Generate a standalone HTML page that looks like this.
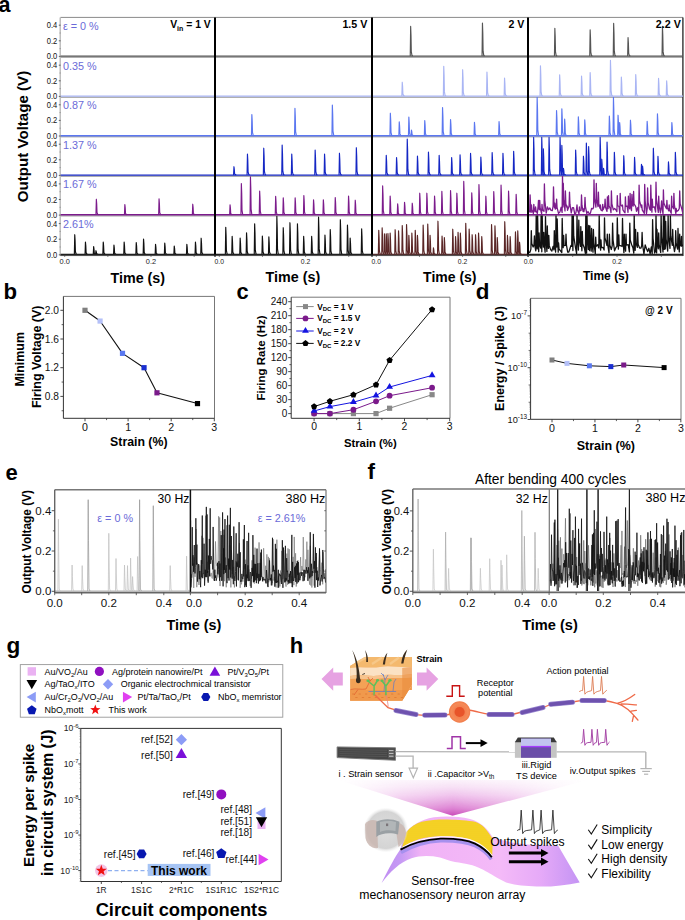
<!DOCTYPE html>
<html><head><meta charset="utf-8"><title>Figure</title>
<style>
html,body{margin:0;padding:0;background:#fff;width:685px;height:920px;overflow:hidden}
svg{display:block}
text{font-family:"Liberation Sans", sans-serif}
</style></head>
<body>
<svg width="685" height="920" viewBox="0 0 685 920" font-family="Liberation Sans, sans-serif">
<rect width="685" height="920" fill="#fff"/>
<g id="panel-a">
<line x1="60.40" y1="57.20" x2="215.00" y2="57.20" stroke="#8c8c8c" stroke-width="1.0" />
<line x1="60.40" y1="97.20" x2="215.00" y2="97.20" stroke="#8c8c8c" stroke-width="1.0" />
<line x1="60.40" y1="136.80" x2="215.00" y2="136.80" stroke="#8c8c8c" stroke-width="1.0" />
<line x1="60.40" y1="176.20" x2="215.00" y2="176.20" stroke="#8c8c8c" stroke-width="1.0" />
<line x1="60.40" y1="215.90" x2="215.00" y2="215.90" stroke="#8c8c8c" stroke-width="1.0" />
<line x1="60.40" y1="255.60" x2="215.00" y2="255.60" stroke="#8c8c8c" stroke-width="1.0" />
<line x1="215.00" y1="57.20" x2="372.00" y2="57.20" stroke="#8c8c8c" stroke-width="1.0" />
<line x1="215.00" y1="97.20" x2="372.00" y2="97.20" stroke="#8c8c8c" stroke-width="1.0" />
<line x1="215.00" y1="136.80" x2="372.00" y2="136.80" stroke="#8c8c8c" stroke-width="1.0" />
<line x1="215.00" y1="176.20" x2="372.00" y2="176.20" stroke="#8c8c8c" stroke-width="1.0" />
<line x1="215.00" y1="215.90" x2="372.00" y2="215.90" stroke="#8c8c8c" stroke-width="1.0" />
<line x1="215.00" y1="255.60" x2="372.00" y2="255.60" stroke="#8c8c8c" stroke-width="1.0" />
<line x1="372.00" y1="57.20" x2="528.00" y2="57.20" stroke="#8c8c8c" stroke-width="1.0" />
<line x1="372.00" y1="97.20" x2="528.00" y2="97.20" stroke="#8c8c8c" stroke-width="1.0" />
<line x1="372.00" y1="136.80" x2="528.00" y2="136.80" stroke="#8c8c8c" stroke-width="1.0" />
<line x1="372.00" y1="176.20" x2="528.00" y2="176.20" stroke="#8c8c8c" stroke-width="1.0" />
<line x1="372.00" y1="215.90" x2="528.00" y2="215.90" stroke="#8c8c8c" stroke-width="1.0" />
<line x1="372.00" y1="255.60" x2="528.00" y2="255.60" stroke="#8c8c8c" stroke-width="1.0" />
<line x1="528.00" y1="57.20" x2="683.00" y2="57.20" stroke="#8c8c8c" stroke-width="1.0" />
<line x1="528.00" y1="97.20" x2="683.00" y2="97.20" stroke="#8c8c8c" stroke-width="1.0" />
<line x1="528.00" y1="136.80" x2="683.00" y2="136.80" stroke="#8c8c8c" stroke-width="1.0" />
<line x1="528.00" y1="176.20" x2="683.00" y2="176.20" stroke="#8c8c8c" stroke-width="1.0" />
<line x1="528.00" y1="215.90" x2="683.00" y2="215.90" stroke="#8c8c8c" stroke-width="1.0" />
<line x1="528.00" y1="255.60" x2="683.00" y2="255.60" stroke="#8c8c8c" stroke-width="1.0" />
<line x1="60.40" y1="17.40" x2="683.00" y2="17.40" stroke="#8a8a8a" stroke-width="1" />
<line x1="682.90" y1="17.40" x2="682.90" y2="256.00" stroke="#333" stroke-width="1.4" />
<line x1="60.20" y1="17.40" x2="60.20" y2="256.00" stroke="#b4b4b4" stroke-width="1.3" />
<clipPath id="cp00"><rect x="60.4" y="17.9" width="154.6" height="40.5"/></clipPath>
<g clip-path="url(#cp00)">
<line x1="60.40" y1="56.10" x2="215.00" y2="56.10" stroke="#555555" stroke-width="1.4" />
</g>
<clipPath id="cp01"><rect x="215.0" y="17.9" width="157.0" height="40.5"/></clipPath>
<g clip-path="url(#cp01)">
<line x1="215.00" y1="56.10" x2="372.00" y2="56.10" stroke="#555555" stroke-width="1.4" />
</g>
<clipPath id="cp02"><rect x="372.0" y="17.9" width="156.0" height="40.5"/></clipPath>
<g clip-path="url(#cp02)">
<line x1="372.00" y1="56.10" x2="528.00" y2="56.10" stroke="#555555" stroke-width="1.4" />
<polyline points="410.25,56.10 410.65,26.40 411.00,35.31 411.30,51.65 412.00,55.60 412.90,56.10" fill="none" stroke="#555555" stroke-width="1.15" stroke-linejoin="round" />
<polyline points="482.05,56.10 482.45,23.00 482.80,32.93 483.10,51.14 483.80,55.60 484.70,56.10" fill="none" stroke="#555555" stroke-width="1.15" stroke-linejoin="round" />
</g>
<clipPath id="cp03"><rect x="528.0" y="17.9" width="155.0" height="40.5"/></clipPath>
<g clip-path="url(#cp03)">
<line x1="528.00" y1="56.10" x2="683.00" y2="56.10" stroke="#555555" stroke-width="1.4" />
<polyline points="554.45,56.10 554.85,28.30 555.20,36.64 555.50,51.93 556.20,55.60 557.10,56.10" fill="none" stroke="#555555" stroke-width="1.15" stroke-linejoin="round" />
<polyline points="589.75,56.10 590.15,29.90 590.50,37.76 590.80,52.17 591.50,55.60 592.40,56.10" fill="none" stroke="#555555" stroke-width="1.15" stroke-linejoin="round" />
<polyline points="613.25,56.10 613.65,23.40 614.00,33.21 614.30,51.20 615.00,55.60 615.90,56.10" fill="none" stroke="#555555" stroke-width="1.15" stroke-linejoin="round" />
<polyline points="627.65,56.10 628.05,37.60 628.40,43.15 628.70,53.33 629.40,55.60 630.30,56.10" fill="none" stroke="#555555" stroke-width="1.15" stroke-linejoin="round" />
<polyline points="662.05,56.10 662.45,26.30 662.80,35.24 663.10,51.63 663.80,55.60 664.70,56.10" fill="none" stroke="#555555" stroke-width="1.15" stroke-linejoin="round" />
</g>
<clipPath id="cp10"><rect x="60.4" y="56.9" width="154.6" height="41.50000000000001"/></clipPath>
<g clip-path="url(#cp10)">
<line x1="60.40" y1="96.10" x2="215.00" y2="96.10" stroke="#a9b5f4" stroke-width="1.4" />
</g>
<clipPath id="cp11"><rect x="215.0" y="56.9" width="157.0" height="41.50000000000001"/></clipPath>
<g clip-path="url(#cp11)">
<line x1="215.00" y1="96.10" x2="372.00" y2="96.10" stroke="#a9b5f4" stroke-width="1.4" />
</g>
<clipPath id="cp12"><rect x="372.0" y="56.9" width="156.0" height="41.50000000000001"/></clipPath>
<g clip-path="url(#cp12)">
<line x1="372.00" y1="96.10" x2="528.00" y2="96.10" stroke="#a9b5f4" stroke-width="1.4" />
<polyline points="401.85,96.10 402.25,82.20 402.60,86.37 402.90,94.02 403.60,95.60 404.50,96.10" fill="none" stroke="#a9b5f4" stroke-width="1.15" stroke-linejoin="round" />
<polyline points="443.35,96.10 443.75,66.30 444.10,75.24 444.40,91.63 445.10,95.60 446.00,96.10" fill="none" stroke="#a9b5f4" stroke-width="1.15" stroke-linejoin="round" />
<polyline points="462.25,96.10 462.65,69.70 463.00,77.62 463.30,92.14 464.00,95.60 464.90,96.10" fill="none" stroke="#a9b5f4" stroke-width="1.15" stroke-linejoin="round" />
<polyline points="486.55,96.10 486.95,72.00 487.30,79.23 487.60,92.49 488.30,95.60 489.20,96.10" fill="none" stroke="#a9b5f4" stroke-width="1.15" stroke-linejoin="round" />
<polyline points="504.15,96.10 504.55,78.10 504.90,83.50 505.20,93.40 505.90,95.60 506.80,96.10" fill="none" stroke="#a9b5f4" stroke-width="1.15" stroke-linejoin="round" />
</g>
<clipPath id="cp13"><rect x="528.0" y="56.9" width="155.0" height="41.50000000000001"/></clipPath>
<g clip-path="url(#cp13)">
<line x1="528.00" y1="96.10" x2="683.00" y2="96.10" stroke="#a9b5f4" stroke-width="1.4" />
<polyline points="540.05,96.10 540.45,65.80 540.80,74.89 541.10,91.56 541.80,95.60 542.70,96.10" fill="none" stroke="#a9b5f4" stroke-width="1.15" stroke-linejoin="round" />
<polyline points="559.25,96.10 559.65,74.80 560.00,81.19 560.30,92.91 561.00,95.60 561.90,96.10" fill="none" stroke="#a9b5f4" stroke-width="1.15" stroke-linejoin="round" />
<polyline points="581.15,96.10 581.55,76.10 581.90,82.10 582.20,93.10 582.90,95.60 583.80,96.10" fill="none" stroke="#a9b5f4" stroke-width="1.15" stroke-linejoin="round" />
<polyline points="589.75,96.10 590.15,72.60 590.50,79.65 590.80,92.58 591.50,95.60 592.40,96.10" fill="none" stroke="#a9b5f4" stroke-width="1.15" stroke-linejoin="round" />
<polyline points="610.05,96.10 610.45,60.40 610.80,71.11 611.10,90.75 611.80,95.60 612.70,96.10" fill="none" stroke="#a9b5f4" stroke-width="1.15" stroke-linejoin="round" />
<polyline points="620.95,96.10 621.35,77.10 621.70,82.80 622.00,93.25 622.70,95.60 623.60,96.10" fill="none" stroke="#a9b5f4" stroke-width="1.15" stroke-linejoin="round" />
<polyline points="635.35,96.10 635.75,74.50 636.10,80.98 636.40,92.86 637.10,95.60 638.00,96.10" fill="none" stroke="#a9b5f4" stroke-width="1.15" stroke-linejoin="round" />
<polyline points="658.15,96.10 658.55,78.40 658.90,83.71 659.20,93.45 659.90,95.60 660.80,96.10" fill="none" stroke="#a9b5f4" stroke-width="1.15" stroke-linejoin="round" />
<polyline points="666.25,96.10 666.65,80.90 667.00,85.46 667.30,93.82 668.00,95.60 668.90,96.10" fill="none" stroke="#a9b5f4" stroke-width="1.15" stroke-linejoin="round" />
</g>
<clipPath id="cp20"><rect x="60.4" y="96.9" width="154.6" height="41.099999999999994"/></clipPath>
<g clip-path="url(#cp20)">
<line x1="60.40" y1="135.70" x2="215.00" y2="135.70" stroke="#5b77f0" stroke-width="1.4" />
</g>
<clipPath id="cp21"><rect x="215.0" y="96.9" width="157.0" height="41.099999999999994"/></clipPath>
<g clip-path="url(#cp21)">
<line x1="215.00" y1="135.70" x2="372.00" y2="135.70" stroke="#5b77f0" stroke-width="1.4" />
<polyline points="251.45,135.70 251.85,114.50 252.20,120.86 252.50,132.52 253.20,135.20 254.10,135.70" fill="none" stroke="#5b77f0" stroke-width="1.15" stroke-linejoin="round" />
<polyline points="294.55,135.70 294.95,108.30 295.30,116.52 295.60,131.59 296.30,135.20 297.20,135.70" fill="none" stroke="#5b77f0" stroke-width="1.15" stroke-linejoin="round" />
<polyline points="331.95,135.70 332.35,105.10 332.70,114.28 333.00,131.11 333.70,135.20 334.60,135.70" fill="none" stroke="#5b77f0" stroke-width="1.15" stroke-linejoin="round" />
</g>
<clipPath id="cp22"><rect x="372.0" y="96.9" width="156.0" height="41.099999999999994"/></clipPath>
<g clip-path="url(#cp22)">
<line x1="372.00" y1="135.70" x2="528.00" y2="135.70" stroke="#5b77f0" stroke-width="1.4" />
<polyline points="389.95,135.70 390.35,113.20 390.70,119.95 391.00,132.32 391.70,135.20 392.60,135.70" fill="none" stroke="#5b77f0" stroke-width="1.15" stroke-linejoin="round" />
<polyline points="398.85,135.70 399.25,121.90 399.60,126.04 399.90,133.63 400.60,135.20 401.50,135.70" fill="none" stroke="#5b77f0" stroke-width="1.15" stroke-linejoin="round" />
<polyline points="408.45,135.70 408.85,117.10 409.20,122.68 409.50,132.91 410.20,135.20 411.10,135.70" fill="none" stroke="#5b77f0" stroke-width="1.15" stroke-linejoin="round" />
<polyline points="411.05,135.70 411.45,130.00 411.80,131.71 412.10,134.84 412.80,135.20 413.70,135.70" fill="none" stroke="#5b77f0" stroke-width="1.15" stroke-linejoin="round" />
<polyline points="424.35,135.70 424.75,120.50 425.10,125.06 425.40,133.42 426.10,135.20 427.00,135.70" fill="none" stroke="#5b77f0" stroke-width="1.15" stroke-linejoin="round" />
<polyline points="442.15,135.70 442.55,107.50 442.90,115.96 443.20,131.47 443.90,135.20 444.80,135.70" fill="none" stroke="#5b77f0" stroke-width="1.15" stroke-linejoin="round" />
<polyline points="450.15,135.70 450.55,119.60 450.90,124.43 451.20,133.28 451.90,135.20 452.80,135.70" fill="none" stroke="#5b77f0" stroke-width="1.15" stroke-linejoin="round" />
<polyline points="474.05,135.70 474.45,122.30 474.80,126.32 475.10,133.69 475.80,135.20 476.70,135.70" fill="none" stroke="#5b77f0" stroke-width="1.15" stroke-linejoin="round" />
<polyline points="498.65,135.70 499.05,121.60 499.40,125.83 499.70,133.58 500.40,135.20 501.30,135.70" fill="none" stroke="#5b77f0" stroke-width="1.15" stroke-linejoin="round" />
</g>
<clipPath id="cp23"><rect x="528.0" y="96.9" width="155.0" height="41.099999999999994"/></clipPath>
<g clip-path="url(#cp23)">
<line x1="528.00" y1="135.70" x2="683.00" y2="135.70" stroke="#5b77f0" stroke-width="1.4" />
<polyline points="536.75,135.70 537.15,97.30 537.50,108.82 537.80,129.94 538.50,135.20 539.40,135.70" fill="none" stroke="#5b77f0" stroke-width="1.15" stroke-linejoin="round" />
<polyline points="556.15,135.70 556.55,110.60 556.90,118.13 557.20,131.94 557.90,135.20 558.80,135.70" fill="none" stroke="#5b77f0" stroke-width="1.15" stroke-linejoin="round" />
<polyline points="561.45,135.70 561.85,108.80 562.20,116.87 562.50,131.66 563.20,135.20 564.10,135.70" fill="none" stroke="#5b77f0" stroke-width="1.15" stroke-linejoin="round" />
<polyline points="564.25,135.70 564.65,119.10 565.00,124.08 565.30,133.21 566.00,135.20 566.90,135.70" fill="none" stroke="#5b77f0" stroke-width="1.15" stroke-linejoin="round" />
<polyline points="577.95,135.70 578.35,116.80 578.70,122.47 579.00,132.86 579.70,135.20 580.60,135.70" fill="none" stroke="#5b77f0" stroke-width="1.15" stroke-linejoin="round" />
<polyline points="584.35,135.70 584.75,119.80 585.10,124.57 585.40,133.31 586.10,135.20 587.00,135.70" fill="none" stroke="#5b77f0" stroke-width="1.15" stroke-linejoin="round" />
<polyline points="608.95,135.70 609.35,116.10 609.70,121.98 610.00,132.76 610.70,135.20 611.60,135.70" fill="none" stroke="#5b77f0" stroke-width="1.15" stroke-linejoin="round" />
<polyline points="613.05,135.70 613.45,97.30 613.80,108.82 614.10,129.94 614.80,135.20 615.70,135.70" fill="none" stroke="#5b77f0" stroke-width="1.15" stroke-linejoin="round" />
<polyline points="617.65,135.70 618.05,115.20 618.40,121.35 618.70,132.62 619.40,135.20 620.30,135.70" fill="none" stroke="#5b77f0" stroke-width="1.15" stroke-linejoin="round" />
<polyline points="619.25,135.70 619.65,122.50 620.00,126.46 620.30,133.72 621.00,135.20 621.90,135.70" fill="none" stroke="#5b77f0" stroke-width="1.15" stroke-linejoin="round" />
<polyline points="630.05,135.70 630.45,120.20 630.80,124.85 631.10,133.38 631.80,135.20 632.70,135.70" fill="none" stroke="#5b77f0" stroke-width="1.15" stroke-linejoin="round" />
<polyline points="646.75,135.70 647.15,121.40 647.50,125.69 647.80,133.55 648.50,135.20 649.40,135.70" fill="none" stroke="#5b77f0" stroke-width="1.15" stroke-linejoin="round" />
<polyline points="657.05,135.70 657.45,113.80 657.80,120.37 658.10,132.41 658.80,135.20 659.70,135.70" fill="none" stroke="#5b77f0" stroke-width="1.15" stroke-linejoin="round" />
<polyline points="671.45,135.70 671.85,122.50 672.20,126.46 672.50,133.72 673.20,135.20 674.10,135.70" fill="none" stroke="#5b77f0" stroke-width="1.15" stroke-linejoin="round" />
</g>
<clipPath id="cp30"><rect x="60.4" y="136.5" width="154.6" height="40.900000000000006"/></clipPath>
<g clip-path="url(#cp30)">
<line x1="60.40" y1="175.10" x2="215.00" y2="175.10" stroke="#1527c4" stroke-width="1.4" />
</g>
<clipPath id="cp31"><rect x="215.0" y="136.5" width="157.0" height="40.900000000000006"/></clipPath>
<g clip-path="url(#cp31)">
<line x1="215.00" y1="175.10" x2="372.00" y2="175.10" stroke="#1527c4" stroke-width="1.4" />
<polyline points="233.55,175.10 233.95,166.70 234.30,169.22 234.60,173.84 235.30,174.60 236.20,175.10" fill="none" stroke="#1527c4" stroke-width="1.15" stroke-linejoin="round" />
<polyline points="247.05,175.10 247.45,154.10 247.80,160.40 248.10,171.95 248.80,174.60 249.70,175.10" fill="none" stroke="#1527c4" stroke-width="1.15" stroke-linejoin="round" />
<polyline points="263.35,175.10 263.75,148.20 264.10,156.27 264.40,171.06 265.10,174.60 266.00,175.10" fill="none" stroke="#1527c4" stroke-width="1.15" stroke-linejoin="round" />
<polyline points="281.75,175.10 282.15,145.00 282.50,154.03 282.80,170.59 283.50,174.60 284.40,175.10" fill="none" stroke="#1527c4" stroke-width="1.15" stroke-linejoin="round" />
<polyline points="291.35,175.10 291.75,154.10 292.10,160.40 292.40,171.95 293.10,174.60 294.00,175.10" fill="none" stroke="#1527c4" stroke-width="1.15" stroke-linejoin="round" />
<polyline points="314.75,175.10 315.15,150.00 315.50,157.53 315.80,171.34 316.50,174.60 317.40,175.10" fill="none" stroke="#1527c4" stroke-width="1.15" stroke-linejoin="round" />
<polyline points="324.15,175.10 324.55,154.10 324.90,160.40 325.20,171.95 325.90,174.60 326.80,175.10" fill="none" stroke="#1527c4" stroke-width="1.15" stroke-linejoin="round" />
<polyline points="339.05,175.10 339.45,153.20 339.80,159.77 340.10,171.81 340.80,174.60 341.70,175.10" fill="none" stroke="#1527c4" stroke-width="1.15" stroke-linejoin="round" />
<polyline points="355.95,175.10 356.35,147.70 356.70,155.92 357.00,170.99 357.70,174.60 358.60,175.10" fill="none" stroke="#1527c4" stroke-width="1.15" stroke-linejoin="round" />
</g>
<clipPath id="cp32"><rect x="372.0" y="136.5" width="156.0" height="40.900000000000006"/></clipPath>
<g clip-path="url(#cp32)">
<line x1="372.00" y1="175.10" x2="528.00" y2="175.10" stroke="#1527c4" stroke-width="1.4" />
<polyline points="385.85,175.10 386.25,155.40 386.60,161.31 386.90,172.14 387.60,174.60 388.50,175.10" fill="none" stroke="#1527c4" stroke-width="1.15" stroke-linejoin="round" />
<polyline points="396.15,175.10 396.55,157.60 396.90,162.85 397.20,172.47 397.90,174.60 398.80,175.10" fill="none" stroke="#1527c4" stroke-width="1.15" stroke-linejoin="round" />
<polyline points="406.85,175.10 407.25,139.00 407.60,149.83 407.90,169.69 408.60,174.60 409.50,175.10" fill="none" stroke="#1527c4" stroke-width="1.15" stroke-linejoin="round" />
<polyline points="417.05,175.10 417.45,156.00 417.80,161.73 418.10,172.23 418.80,174.60 419.70,175.10" fill="none" stroke="#1527c4" stroke-width="1.15" stroke-linejoin="round" />
<polyline points="428.05,175.10 428.45,152.00 428.80,158.93 429.10,171.63 429.80,174.60 430.70,175.10" fill="none" stroke="#1527c4" stroke-width="1.15" stroke-linejoin="round" />
<polyline points="438.75,175.10 439.15,155.40 439.50,161.31 439.80,172.14 440.50,174.60 441.40,175.10" fill="none" stroke="#1527c4" stroke-width="1.15" stroke-linejoin="round" />
<polyline points="451.25,175.10 451.65,157.60 452.00,162.85 452.30,172.47 453.00,174.60 453.90,175.10" fill="none" stroke="#1527c4" stroke-width="1.15" stroke-linejoin="round" />
<polyline points="459.65,175.10 460.05,154.90 460.40,160.96 460.70,172.07 461.40,174.60 462.30,175.10" fill="none" stroke="#1527c4" stroke-width="1.15" stroke-linejoin="round" />
<polyline points="470.15,175.10 470.55,153.30 470.90,159.84 471.20,171.83 471.90,174.60 472.80,175.10" fill="none" stroke="#1527c4" stroke-width="1.15" stroke-linejoin="round" />
<polyline points="480.45,175.10 480.85,157.00 481.20,162.43 481.50,172.38 482.20,174.60 483.10,175.10" fill="none" stroke="#1527c4" stroke-width="1.15" stroke-linejoin="round" />
<polyline points="491.75,175.10 492.15,152.60 492.50,159.35 492.80,171.72 493.50,174.60 494.40,175.10" fill="none" stroke="#1527c4" stroke-width="1.15" stroke-linejoin="round" />
<polyline points="502.55,175.10 502.95,153.30 503.30,159.84 503.60,171.83 504.30,174.60 505.20,175.10" fill="none" stroke="#1527c4" stroke-width="1.15" stroke-linejoin="round" />
<polyline points="513.25,175.10 513.65,151.30 514.00,158.44 514.30,171.53 515.00,174.60 515.90,175.10" fill="none" stroke="#1527c4" stroke-width="1.15" stroke-linejoin="round" />
</g>
<clipPath id="cp33"><rect x="528.0" y="136.5" width="155.0" height="40.900000000000006"/></clipPath>
<g clip-path="url(#cp33)">
<line x1="528.00" y1="175.10" x2="683.00" y2="175.10" stroke="#1527c4" stroke-width="1.4" />
<polyline points="533.25,175.10 533.65,137.40 534.00,148.71 534.30,169.44 535.00,174.60 535.90,175.10" fill="none" stroke="#1527c4" stroke-width="1.15" stroke-linejoin="round" />
<polyline points="541.35,175.10 541.75,137.40 542.10,148.71 542.40,169.44 543.10,174.60 544.00,175.10" fill="none" stroke="#1527c4" stroke-width="1.15" stroke-linejoin="round" />
<polyline points="542.95,175.10 543.35,148.90 543.70,156.76 544.00,171.17 544.70,174.60 545.60,175.10" fill="none" stroke="#1527c4" stroke-width="1.15" stroke-linejoin="round" />
<polyline points="548.65,175.10 549.05,137.40 549.40,148.71 549.70,169.44 550.40,174.60 551.30,175.10" fill="none" stroke="#1527c4" stroke-width="1.15" stroke-linejoin="round" />
<polyline points="559.65,175.10 560.05,137.40 560.40,148.71 560.70,169.44 561.40,174.60 562.30,175.10" fill="none" stroke="#1527c4" stroke-width="1.15" stroke-linejoin="round" />
<polyline points="561.45,175.10 561.85,145.40 562.20,154.31 562.50,170.64 563.20,174.60 564.10,175.10" fill="none" stroke="#1527c4" stroke-width="1.15" stroke-linejoin="round" />
<polyline points="563.05,175.10 563.45,168.30 563.80,170.34 564.10,174.08 564.80,174.60 565.70,175.10" fill="none" stroke="#1527c4" stroke-width="1.15" stroke-linejoin="round" />
<polyline points="575.25,175.10 575.65,150.00 576.00,157.53 576.30,171.34 577.00,174.60 577.90,175.10" fill="none" stroke="#1527c4" stroke-width="1.15" stroke-linejoin="round" />
<polyline points="583.05,175.10 583.45,156.20 583.80,161.87 584.10,172.26 584.80,174.60 585.70,175.10" fill="none" stroke="#1527c4" stroke-width="1.15" stroke-linejoin="round" />
<polyline points="585.95,175.10 586.35,143.10 586.70,152.70 587.00,170.30 587.70,174.60 588.60,175.10" fill="none" stroke="#1527c4" stroke-width="1.15" stroke-linejoin="round" />
<polyline points="588.25,175.10 588.65,146.60 589.00,155.15 589.30,170.82 590.00,174.60 590.90,175.10" fill="none" stroke="#1527c4" stroke-width="1.15" stroke-linejoin="round" />
<polyline points="599.75,175.10 600.15,137.40 600.50,148.71 600.80,169.44 601.50,174.60 602.40,175.10" fill="none" stroke="#1527c4" stroke-width="1.15" stroke-linejoin="round" />
<polyline points="601.35,175.10 601.75,159.20 602.10,163.97 602.40,172.72 603.10,174.60 604.00,175.10" fill="none" stroke="#1527c4" stroke-width="1.15" stroke-linejoin="round" />
<polyline points="603.15,175.10 603.55,168.30 603.90,170.34 604.20,174.08 604.90,174.60 605.80,175.10" fill="none" stroke="#1527c4" stroke-width="1.15" stroke-linejoin="round" />
<polyline points="606.65,175.10 607.05,142.00 607.40,151.93 607.70,170.13 608.40,174.60 609.30,175.10" fill="none" stroke="#1527c4" stroke-width="1.15" stroke-linejoin="round" />
<polyline points="613.95,175.10 614.35,152.30 614.70,159.14 615.00,171.68 615.70,174.60 616.60,175.10" fill="none" stroke="#1527c4" stroke-width="1.15" stroke-linejoin="round" />
<polyline points="623.35,175.10 623.75,155.70 624.10,161.52 624.40,172.19 625.10,174.60 626.00,175.10" fill="none" stroke="#1527c4" stroke-width="1.15" stroke-linejoin="round" />
<polyline points="634.15,175.10 634.55,157.30 634.90,162.64 635.20,172.43 635.90,174.60 636.80,175.10" fill="none" stroke="#1527c4" stroke-width="1.15" stroke-linejoin="round" />
<polyline points="641.05,175.10 641.45,164.40 641.80,167.61 642.10,173.50 642.80,174.60 643.70,175.10" fill="none" stroke="#1527c4" stroke-width="1.15" stroke-linejoin="round" />
<polyline points="642.15,175.10 642.55,166.00 642.90,168.73 643.20,173.73 643.90,174.60 644.80,175.10" fill="none" stroke="#1527c4" stroke-width="1.15" stroke-linejoin="round" />
<polyline points="652.95,175.10 653.35,148.20 653.70,156.27 654.00,171.06 654.70,174.60 655.60,175.10" fill="none" stroke="#1527c4" stroke-width="1.15" stroke-linejoin="round" />
<polyline points="657.55,175.10 657.95,156.40 658.30,162.01 658.60,172.29 659.30,174.60 660.20,175.10" fill="none" stroke="#1527c4" stroke-width="1.15" stroke-linejoin="round" />
<polyline points="668.05,175.10 668.45,161.90 668.80,165.86 669.10,173.12 669.80,174.60 670.70,175.10" fill="none" stroke="#1527c4" stroke-width="1.15" stroke-linejoin="round" />
<polyline points="674.95,175.10 675.35,152.30 675.70,159.14 676.00,171.68 676.70,174.60 677.60,175.10" fill="none" stroke="#1527c4" stroke-width="1.15" stroke-linejoin="round" />
</g>
<clipPath id="cp40"><rect x="60.4" y="175.9" width="154.6" height="41.19999999999999"/></clipPath>
<g clip-path="url(#cp40)">
<line x1="60.40" y1="214.80" x2="215.00" y2="214.80" stroke="#7c1c8c" stroke-width="1.4" />
<polyline points="95.95,214.80 96.35,199.20 96.70,203.88 97.00,212.46 97.70,214.30 98.60,214.80" fill="none" stroke="#7c1c8c" stroke-width="1.15" stroke-linejoin="round" />
<polyline points="124.45,214.80 124.85,204.50 125.20,207.59 125.50,213.25 126.20,214.30 127.10,214.80" fill="none" stroke="#7c1c8c" stroke-width="1.15" stroke-linejoin="round" />
<polyline points="158.65,214.80 159.05,198.80 159.40,203.60 159.70,212.40 160.40,214.30 161.30,214.80" fill="none" stroke="#7c1c8c" stroke-width="1.15" stroke-linejoin="round" />
<polyline points="192.35,214.80 192.75,204.20 193.10,207.38 193.40,213.21 194.10,214.30 195.00,214.80" fill="none" stroke="#7c1c8c" stroke-width="1.15" stroke-linejoin="round" />
</g>
<clipPath id="cp41"><rect x="215.0" y="175.9" width="157.0" height="41.19999999999999"/></clipPath>
<g clip-path="url(#cp41)">
<line x1="215.00" y1="214.80" x2="372.00" y2="214.80" stroke="#7c1c8c" stroke-width="1.4" />
<polyline points="229.65,214.80 230.05,204.80 230.40,207.80 230.70,213.30 231.40,214.30 232.30,214.80" fill="none" stroke="#7c1c8c" stroke-width="1.15" stroke-linejoin="round" />
<polyline points="240.95,214.80 241.35,183.50 241.70,192.89 242.00,210.10 242.70,214.30 243.60,214.80" fill="none" stroke="#7c1c8c" stroke-width="1.15" stroke-linejoin="round" />
<polyline points="250.05,214.80 250.45,176.80 250.80,188.20 251.10,209.10 251.80,214.30 252.70,214.80" fill="none" stroke="#7c1c8c" stroke-width="1.15" stroke-linejoin="round" />
<polyline points="259.25,214.80 259.65,191.00 260.00,198.14 260.30,211.23 261.00,214.30 261.90,214.80" fill="none" stroke="#7c1c8c" stroke-width="1.15" stroke-linejoin="round" />
<polyline points="275.25,214.80 275.65,196.30 276.00,201.85 276.30,212.02 277.00,214.30 277.90,214.80" fill="none" stroke="#7c1c8c" stroke-width="1.15" stroke-linejoin="round" />
<polyline points="282.85,214.80 283.25,197.90 283.60,202.97 283.90,212.26 284.60,214.30 285.50,214.80" fill="none" stroke="#7c1c8c" stroke-width="1.15" stroke-linejoin="round" />
<polyline points="294.75,214.80 295.15,197.90 295.50,202.97 295.80,212.26 296.50,214.30 297.40,214.80" fill="none" stroke="#7c1c8c" stroke-width="1.15" stroke-linejoin="round" />
<polyline points="303.45,214.80 303.85,195.60 304.20,201.36 304.50,211.92 305.20,214.30 306.10,214.80" fill="none" stroke="#7c1c8c" stroke-width="1.15" stroke-linejoin="round" />
<polyline points="313.15,214.80 313.55,199.80 313.90,204.30 314.20,212.55 314.90,214.30 315.80,214.80" fill="none" stroke="#7c1c8c" stroke-width="1.15" stroke-linejoin="round" />
<polyline points="322.95,214.80 323.35,199.80 323.70,204.30 324.00,212.55 324.70,214.30 325.60,214.80" fill="none" stroke="#7c1c8c" stroke-width="1.15" stroke-linejoin="round" />
<polyline points="334.85,214.80 335.25,197.50 335.60,202.69 335.90,212.20 336.60,214.30 337.50,214.80" fill="none" stroke="#7c1c8c" stroke-width="1.15" stroke-linejoin="round" />
<polyline points="348.15,214.80 348.55,196.10 348.90,201.71 349.20,211.99 349.90,214.30 350.80,214.80" fill="none" stroke="#7c1c8c" stroke-width="1.15" stroke-linejoin="round" />
<polyline points="354.85,214.80 355.25,200.20 355.60,204.58 355.90,212.61 356.60,214.30 357.50,214.80" fill="none" stroke="#7c1c8c" stroke-width="1.15" stroke-linejoin="round" />
</g>
<clipPath id="cp42"><rect x="372.0" y="175.9" width="156.0" height="41.19999999999999"/></clipPath>
<g clip-path="url(#cp42)">
<line x1="372.00" y1="214.80" x2="528.00" y2="214.80" stroke="#7c1c8c" stroke-width="1.4" />
<polyline points="382.25,214.80 382.65,185.90 383.00,194.57 383.30,210.46 384.00,214.30 384.90,214.80" fill="none" stroke="#7c1c8c" stroke-width="1.15" stroke-linejoin="round" />
<polyline points="389.75,214.80 390.15,196.00 390.50,201.64 390.80,211.98 391.50,214.30 392.40,214.80" fill="none" stroke="#7c1c8c" stroke-width="1.15" stroke-linejoin="round" />
<polyline points="397.25,214.80 397.65,203.90 398.00,207.17 398.30,213.16 399.00,214.30 399.90,214.80" fill="none" stroke="#7c1c8c" stroke-width="1.15" stroke-linejoin="round" />
<polyline points="404.15,214.80 404.55,202.30 404.90,206.05 405.20,212.92 405.90,214.30 406.80,214.80" fill="none" stroke="#7c1c8c" stroke-width="1.15" stroke-linejoin="round" />
<polyline points="411.85,214.80 412.25,203.20 412.60,206.68 412.90,213.06 413.60,214.30 414.50,214.80" fill="none" stroke="#7c1c8c" stroke-width="1.15" stroke-linejoin="round" />
<polyline points="419.35,214.80 419.75,193.20 420.10,199.68 420.40,211.56 421.10,214.30 422.00,214.80" fill="none" stroke="#7c1c8c" stroke-width="1.15" stroke-linejoin="round" />
<polyline points="426.45,214.80 426.85,193.20 427.20,199.68 427.50,211.56 428.20,214.30 429.10,214.80" fill="none" stroke="#7c1c8c" stroke-width="1.15" stroke-linejoin="round" />
<polyline points="434.15,214.80 434.55,196.00 434.90,201.64 435.20,211.98 435.90,214.30 436.80,214.80" fill="none" stroke="#7c1c8c" stroke-width="1.15" stroke-linejoin="round" />
<polyline points="441.45,214.80 441.85,191.40 442.20,198.42 442.50,211.29 443.20,214.30 444.10,214.80" fill="none" stroke="#7c1c8c" stroke-width="1.15" stroke-linejoin="round" />
<polyline points="450.15,214.80 450.55,190.50 450.90,197.79 451.20,211.15 451.90,214.30 452.80,214.80" fill="none" stroke="#7c1c8c" stroke-width="1.15" stroke-linejoin="round" />
<polyline points="456.45,214.80 456.85,193.20 457.20,199.68 457.50,211.56 458.20,214.30 459.10,214.80" fill="none" stroke="#7c1c8c" stroke-width="1.15" stroke-linejoin="round" />
<polyline points="463.35,214.80 463.75,181.40 464.10,191.42 464.40,209.79 465.10,214.30 466.00,214.80" fill="none" stroke="#7c1c8c" stroke-width="1.15" stroke-linejoin="round" />
<polyline points="471.35,214.80 471.75,192.80 472.10,199.40 472.40,211.50 473.10,214.30 474.00,214.80" fill="none" stroke="#7c1c8c" stroke-width="1.15" stroke-linejoin="round" />
<polyline points="478.55,214.80 478.95,184.60 479.30,193.66 479.60,210.27 480.30,214.30 481.20,214.80" fill="none" stroke="#7c1c8c" stroke-width="1.15" stroke-linejoin="round" />
<polyline points="485.45,214.80 485.85,196.20 486.20,201.78 486.50,212.01 487.20,214.30 488.10,214.80" fill="none" stroke="#7c1c8c" stroke-width="1.15" stroke-linejoin="round" />
<polyline points="493.35,214.80 493.75,191.60 494.10,198.56 494.40,211.32 495.10,214.30 496.00,214.80" fill="none" stroke="#7c1c8c" stroke-width="1.15" stroke-linejoin="round" />
<polyline points="500.65,214.80 501.05,185.00 501.40,193.94 501.70,210.33 502.40,214.30 503.30,214.80" fill="none" stroke="#7c1c8c" stroke-width="1.15" stroke-linejoin="round" />
<polyline points="508.15,214.80 508.55,191.00 508.90,198.14 509.20,211.23 509.90,214.30 510.80,214.80" fill="none" stroke="#7c1c8c" stroke-width="1.15" stroke-linejoin="round" />
<polyline points="515.75,214.80 516.15,194.40 516.50,200.52 516.80,211.74 517.50,214.30 518.40,214.80" fill="none" stroke="#7c1c8c" stroke-width="1.15" stroke-linejoin="round" />
</g>
<clipPath id="cp43"><rect x="528.0" y="175.9" width="155.0" height="41.19999999999999"/></clipPath>
<g clip-path="url(#cp43)">
<line x1="528.00" y1="214.80" x2="683.00" y2="214.80" stroke="#7c1c8c" stroke-width="1.4" />
</g>
<clipPath id="cp50"><rect x="60.4" y="215.6" width="154.6" height="41.20000000000002"/></clipPath>
<g clip-path="url(#cp50)">
<line x1="60.40" y1="254.50" x2="215.00" y2="254.50" stroke="#111111" stroke-width="1.4" />
<polyline points="74.35,254.50 74.75,234.70 75.10,240.64 75.40,251.53 76.10,254.00 77.00,254.50" fill="none" stroke="#111111" stroke-width="1.15" stroke-linejoin="round" />
<polyline points="85.05,254.50 85.45,242.00 85.80,245.75 86.10,252.62 86.80,254.00 87.70,254.50" fill="none" stroke="#111111" stroke-width="1.15" stroke-linejoin="round" />
<polyline points="93.25,254.50 93.65,246.60 94.00,248.97 94.30,253.31 95.00,254.00 95.90,254.50" fill="none" stroke="#111111" stroke-width="1.15" stroke-linejoin="round" />
<polyline points="95.55,254.50 95.95,250.70 96.30,251.84 96.60,253.93 97.30,254.00 98.20,254.50" fill="none" stroke="#111111" stroke-width="1.15" stroke-linejoin="round" />
<polyline points="102.85,254.50 103.25,242.00 103.60,245.75 103.90,252.62 104.60,254.00 105.50,254.50" fill="none" stroke="#111111" stroke-width="1.15" stroke-linejoin="round" />
<polyline points="113.55,254.50 113.95,245.00 114.30,247.85 114.60,253.07 115.30,254.00 116.20,254.50" fill="none" stroke="#111111" stroke-width="1.15" stroke-linejoin="round" />
<polyline points="123.75,254.50 124.15,242.00 124.50,245.75 124.80,252.62 125.50,254.00 126.40,254.50" fill="none" stroke="#111111" stroke-width="1.15" stroke-linejoin="round" />
<polyline points="135.85,254.50 136.25,242.50 136.60,246.10 136.90,252.70 137.60,254.00 138.50,254.50" fill="none" stroke="#111111" stroke-width="1.15" stroke-linejoin="round" />
<polyline points="143.15,254.50 143.55,239.00 143.90,243.65 144.20,252.18 144.90,254.00 145.80,254.50" fill="none" stroke="#111111" stroke-width="1.15" stroke-linejoin="round" />
<polyline points="155.15,254.50 155.55,244.30 155.90,247.36 156.20,252.97 156.90,254.00 157.80,254.50" fill="none" stroke="#111111" stroke-width="1.15" stroke-linejoin="round" />
<polyline points="164.35,254.50 164.75,243.00 165.10,246.45 165.40,252.78 166.10,254.00 167.00,254.50" fill="none" stroke="#111111" stroke-width="1.15" stroke-linejoin="round" />
<polyline points="173.85,254.50 174.25,246.00 174.60,248.55 174.90,253.22 175.60,254.00 176.50,254.50" fill="none" stroke="#111111" stroke-width="1.15" stroke-linejoin="round" />
<polyline points="186.45,254.50 186.85,244.30 187.20,247.36 187.50,252.97 188.20,254.00 189.10,254.50" fill="none" stroke="#111111" stroke-width="1.15" stroke-linejoin="round" />
<polyline points="195.05,254.50 195.45,242.00 195.80,245.75 196.10,252.62 196.80,254.00 197.70,254.50" fill="none" stroke="#111111" stroke-width="1.15" stroke-linejoin="round" />
<polyline points="200.75,254.50 201.15,238.20 201.50,243.09 201.80,252.06 202.50,254.00 203.40,254.50" fill="none" stroke="#111111" stroke-width="1.15" stroke-linejoin="round" />
</g>
<clipPath id="cp51"><rect x="215.0" y="215.6" width="157.0" height="41.20000000000002"/></clipPath>
<g clip-path="url(#cp51)">
<line x1="215.00" y1="254.50" x2="372.00" y2="254.50" stroke="#111111" stroke-width="1.4" />
<polyline points="225.35,254.50 225.75,227.30 226.10,235.46 226.40,250.42 227.10,254.00 228.00,254.50" fill="none" stroke="#111111" stroke-width="1.15" stroke-linejoin="round" />
<polyline points="231.75,254.50 232.15,236.40 232.50,241.83 232.80,251.78 233.50,254.00 234.40,254.50" fill="none" stroke="#111111" stroke-width="1.15" stroke-linejoin="round" />
<polyline points="239.75,254.50 240.15,238.00 240.50,242.95 240.80,252.03 241.50,254.00 242.40,254.50" fill="none" stroke="#111111" stroke-width="1.15" stroke-linejoin="round" />
<polyline points="246.15,254.50 246.55,232.80 246.90,239.31 247.20,251.25 247.90,254.00 248.80,254.50" fill="none" stroke="#111111" stroke-width="1.15" stroke-linejoin="round" />
<polyline points="254.25,254.50 254.65,223.80 255.00,233.01 255.30,249.90 256.00,254.00 256.90,254.50" fill="none" stroke="#111111" stroke-width="1.15" stroke-linejoin="round" />
<polyline points="261.95,254.50 262.35,236.00 262.70,241.55 263.00,251.72 263.70,254.00 264.60,254.50" fill="none" stroke="#111111" stroke-width="1.15" stroke-linejoin="round" />
<polyline points="268.45,254.50 268.85,236.90 269.20,242.18 269.50,251.86 270.20,254.00 271.10,254.50" fill="none" stroke="#111111" stroke-width="1.15" stroke-linejoin="round" />
<polyline points="276.45,254.50 276.85,216.30 277.20,227.76 277.50,248.77 278.20,254.00 279.10,254.50" fill="none" stroke="#111111" stroke-width="1.15" stroke-linejoin="round" />
<polyline points="282.85,254.50 283.25,227.70 283.60,235.74 283.90,250.48 284.60,254.00 285.50,254.50" fill="none" stroke="#111111" stroke-width="1.15" stroke-linejoin="round" />
<polyline points="289.55,254.50 289.95,222.70 290.30,232.24 290.60,249.73 291.30,254.00 292.20,254.50" fill="none" stroke="#111111" stroke-width="1.15" stroke-linejoin="round" />
<polyline points="297.05,254.50 297.45,223.80 297.80,233.01 298.10,249.90 298.80,254.00 299.70,254.50" fill="none" stroke="#111111" stroke-width="1.15" stroke-linejoin="round" />
<polyline points="303.25,254.50 303.65,236.40 304.00,241.83 304.30,251.78 305.00,254.00 305.90,254.50" fill="none" stroke="#111111" stroke-width="1.15" stroke-linejoin="round" />
<polyline points="311.25,254.50 311.65,236.40 312.00,241.83 312.30,251.78 313.00,254.00 313.90,254.50" fill="none" stroke="#111111" stroke-width="1.15" stroke-linejoin="round" />
<polyline points="318.15,254.50 318.55,217.00 318.90,228.25 319.20,248.88 319.90,254.00 320.80,254.50" fill="none" stroke="#111111" stroke-width="1.15" stroke-linejoin="round" />
<polyline points="324.55,254.50 324.95,235.00 325.30,240.85 325.60,251.57 326.30,254.00 327.20,254.50" fill="none" stroke="#111111" stroke-width="1.15" stroke-linejoin="round" />
<polyline points="329.85,254.50 330.25,229.50 330.60,237.00 330.90,250.75 331.60,254.00 332.50,254.50" fill="none" stroke="#111111" stroke-width="1.15" stroke-linejoin="round" />
<polyline points="339.95,254.50 340.35,219.70 340.70,230.14 341.00,249.28 341.70,254.00 342.60,254.50" fill="none" stroke="#111111" stroke-width="1.15" stroke-linejoin="round" />
<polyline points="347.05,254.50 347.45,225.00 347.80,233.85 348.10,250.07 348.80,254.00 349.70,254.50" fill="none" stroke="#111111" stroke-width="1.15" stroke-linejoin="round" />
<polyline points="349.75,254.50 350.15,238.00 350.50,242.95 350.80,252.03 351.50,254.00 352.40,254.50" fill="none" stroke="#111111" stroke-width="1.15" stroke-linejoin="round" />
<polyline points="361.25,254.50 361.65,228.90 362.00,236.58 362.30,250.66 363.00,254.00 363.90,254.50" fill="none" stroke="#111111" stroke-width="1.15" stroke-linejoin="round" />
</g>
<clipPath id="cp52"><rect x="372.0" y="215.6" width="156.0" height="41.20000000000002"/></clipPath>
<g clip-path="url(#cp52)">
<line x1="372.00" y1="254.50" x2="528.00" y2="254.50" stroke="#5a2626" stroke-width="1.4" />
<polyline points="378.35,254.50 378.75,230.30 379.10,237.56 379.40,250.87 380.10,254.00 381.00,254.50" fill="none" stroke="#5a2626" stroke-width="1.15" stroke-linejoin="round" />
<polyline points="381.75,254.50 382.15,227.80 382.50,235.81 382.80,250.50 383.50,254.00 384.40,254.50" fill="none" stroke="#5a2626" stroke-width="1.15" stroke-linejoin="round" />
<polyline points="384.05,254.50 384.45,233.80 384.80,240.01 385.10,251.40 385.80,254.00 386.70,254.50" fill="none" stroke="#5a2626" stroke-width="1.15" stroke-linejoin="round" />
<polyline points="385.85,254.50 386.25,233.80 386.60,240.01 386.90,251.40 387.60,254.00 388.50,254.50" fill="none" stroke="#5a2626" stroke-width="1.15" stroke-linejoin="round" />
<polyline points="387.55,254.50 387.95,233.50 388.30,239.80 388.60,251.35 389.30,254.00 390.20,254.50" fill="none" stroke="#5a2626" stroke-width="1.15" stroke-linejoin="round" />
<polyline points="389.75,254.50 390.15,233.00 390.50,239.45 390.80,251.28 391.50,254.00 392.40,254.50" fill="none" stroke="#5a2626" stroke-width="1.15" stroke-linejoin="round" />
<polyline points="394.75,254.50 395.15,229.70 395.50,237.14 395.80,250.78 396.50,254.00 397.40,254.50" fill="none" stroke="#5a2626" stroke-width="1.15" stroke-linejoin="round" />
<polyline points="398.15,254.50 398.55,230.80 398.90,237.91 399.20,250.94 399.90,254.00 400.80,254.50" fill="none" stroke="#5a2626" stroke-width="1.15" stroke-linejoin="round" />
<polyline points="401.85,254.50 402.25,225.60 402.60,234.27 402.90,250.16 403.60,254.00 404.50,254.50" fill="none" stroke="#5a2626" stroke-width="1.15" stroke-linejoin="round" />
<polyline points="406.15,254.50 406.55,224.60 406.90,233.57 407.20,250.01 407.90,254.00 408.80,254.50" fill="none" stroke="#5a2626" stroke-width="1.15" stroke-linejoin="round" />
<polyline points="408.45,254.50 408.85,235.40 409.20,241.13 409.50,251.63 410.20,254.00 411.10,254.50" fill="none" stroke="#5a2626" stroke-width="1.15" stroke-linejoin="round" />
<polyline points="411.45,254.50 411.85,233.00 412.20,239.45 412.50,251.28 413.20,254.00 414.10,254.50" fill="none" stroke="#5a2626" stroke-width="1.15" stroke-linejoin="round" />
<polyline points="414.85,254.50 415.25,230.30 415.60,237.56 415.90,250.87 416.60,254.00 417.50,254.50" fill="none" stroke="#5a2626" stroke-width="1.15" stroke-linejoin="round" />
<polyline points="417.05,254.50 417.45,235.40 417.80,241.13 418.10,251.63 418.80,254.00 419.70,254.50" fill="none" stroke="#5a2626" stroke-width="1.15" stroke-linejoin="round" />
<polyline points="422.75,254.50 423.15,225.10 423.50,233.92 423.80,250.09 424.50,254.00 425.40,254.50" fill="none" stroke="#5a2626" stroke-width="1.15" stroke-linejoin="round" />
<polyline points="427.35,254.50 427.75,224.00 428.10,233.15 428.40,249.93 429.10,254.00 430.00,254.50" fill="none" stroke="#5a2626" stroke-width="1.15" stroke-linejoin="round" />
<polyline points="429.65,254.50 430.05,235.40 430.40,241.13 430.70,251.63 431.40,254.00 432.30,254.50" fill="none" stroke="#5a2626" stroke-width="1.15" stroke-linejoin="round" />
<polyline points="433.05,254.50 433.45,247.90 433.80,249.88 434.10,253.51 434.80,254.00 435.70,254.50" fill="none" stroke="#5a2626" stroke-width="1.15" stroke-linejoin="round" />
<polyline points="437.55,254.50 437.95,221.20 438.30,231.19 438.60,249.50 439.30,254.00 440.20,254.50" fill="none" stroke="#5a2626" stroke-width="1.15" stroke-linejoin="round" />
<polyline points="441.65,254.50 442.05,236.00 442.40,241.55 442.70,251.72 443.40,254.00 444.30,254.50" fill="none" stroke="#5a2626" stroke-width="1.15" stroke-linejoin="round" />
<polyline points="443.95,254.50 444.35,237.60 444.70,242.67 445.00,251.97 445.70,254.00 446.60,254.50" fill="none" stroke="#5a2626" stroke-width="1.15" stroke-linejoin="round" />
<polyline points="452.35,254.50 452.75,229.20 453.10,236.79 453.40,250.70 454.10,254.00 455.00,254.50" fill="none" stroke="#5a2626" stroke-width="1.15" stroke-linejoin="round" />
<polyline points="455.15,254.50 455.55,236.50 455.90,241.90 456.20,251.80 456.90,254.00 457.80,254.50" fill="none" stroke="#5a2626" stroke-width="1.15" stroke-linejoin="round" />
<polyline points="457.65,254.50 458.05,232.40 458.40,239.03 458.70,251.19 459.40,254.00 460.30,254.50" fill="none" stroke="#5a2626" stroke-width="1.15" stroke-linejoin="round" />
<polyline points="459.95,254.50 460.35,233.00 460.70,239.45 461.00,251.28 461.70,254.00 462.60,254.50" fill="none" stroke="#5a2626" stroke-width="1.15" stroke-linejoin="round" />
<polyline points="465.35,254.50 465.75,223.30 466.10,232.66 466.40,249.82 467.10,254.00 468.00,254.50" fill="none" stroke="#5a2626" stroke-width="1.15" stroke-linejoin="round" />
<polyline points="468.75,254.50 469.15,229.00 469.50,236.65 469.80,250.68 470.50,254.00 471.40,254.50" fill="none" stroke="#5a2626" stroke-width="1.15" stroke-linejoin="round" />
<polyline points="471.75,254.50 472.15,234.70 472.50,240.64 472.80,251.53 473.50,254.00 474.40,254.50" fill="none" stroke="#5a2626" stroke-width="1.15" stroke-linejoin="round" />
<polyline points="475.15,254.50 475.55,234.70 475.90,240.64 476.20,251.53 476.90,254.00 477.80,254.50" fill="none" stroke="#5a2626" stroke-width="1.15" stroke-linejoin="round" />
<polyline points="478.15,254.50 478.55,233.00 478.90,239.45 479.20,251.28 479.90,254.00 480.80,254.50" fill="none" stroke="#5a2626" stroke-width="1.15" stroke-linejoin="round" />
<polyline points="481.35,254.50 481.75,236.50 482.10,241.90 482.40,251.80 483.10,254.00 484.00,254.50" fill="none" stroke="#5a2626" stroke-width="1.15" stroke-linejoin="round" />
<polyline points="491.15,254.50 491.55,224.60 491.90,233.57 492.20,250.01 492.90,254.00 493.80,254.50" fill="none" stroke="#5a2626" stroke-width="1.15" stroke-linejoin="round" />
<polyline points="494.55,254.50 494.95,225.80 495.30,234.41 495.60,250.19 496.30,254.00 497.20,254.50" fill="none" stroke="#5a2626" stroke-width="1.15" stroke-linejoin="round" />
<polyline points="496.85,254.50 497.25,237.60 497.60,242.67 497.90,251.97 498.60,254.00 499.50,254.50" fill="none" stroke="#5a2626" stroke-width="1.15" stroke-linejoin="round" />
<polyline points="504.35,254.50 504.75,221.70 505.10,231.54 505.40,249.58 506.10,254.00 507.00,254.50" fill="none" stroke="#5a2626" stroke-width="1.15" stroke-linejoin="round" />
<polyline points="507.05,254.50 507.45,235.40 507.80,241.13 508.10,251.63 508.80,254.00 509.70,254.50" fill="none" stroke="#5a2626" stroke-width="1.15" stroke-linejoin="round" />
<polyline points="509.75,254.50 510.15,236.50 510.50,241.90 510.80,251.80 511.50,254.00 512.40,254.50" fill="none" stroke="#5a2626" stroke-width="1.15" stroke-linejoin="round" />
<polyline points="515.05,254.50 515.45,231.90 515.80,238.68 516.10,251.11 516.80,254.00 517.70,254.50" fill="none" stroke="#5a2626" stroke-width="1.15" stroke-linejoin="round" />
<polyline points="517.35,254.50 517.75,230.80 518.10,237.91 518.40,250.94 519.10,254.00 520.00,254.50" fill="none" stroke="#5a2626" stroke-width="1.15" stroke-linejoin="round" />
<polyline points="519.15,254.50 519.55,242.20 519.90,245.89 520.20,252.66 520.90,254.00 521.80,254.50" fill="none" stroke="#5a2626" stroke-width="1.15" stroke-linejoin="round" />
</g>
<clipPath id="cp53"><rect x="528.0" y="215.6" width="155.0" height="41.20000000000002"/></clipPath>
<g clip-path="url(#cp53)">
<line x1="528.00" y1="254.50" x2="683.00" y2="254.50" stroke="#111111" stroke-width="1.4" />
</g>
<g clip-path="url(#cp43)">
<polyline points="528.50,210.98 529.70,211.93 530.10,195.00 530.55,205.45 531.10,212.36 531.50,205.00 531.95,209.95 533.40,213.54 533.80,204.40 534.25,209.68 535.20,211.92 535.60,207.00 536.05,210.85 537.35,213.38 538.10,206.23 538.50,200.30 538.95,207.84 539.30,209.72 539.70,200.30 540.15,207.84 541.60,213.55 542.00,204.40 542.45,209.68 544.00,211.19 544.40,183.90 544.85,200.46 546.21,213.21 547.43,206.91 548.64,209.75 549.86,207.97 551.07,210.35 552.29,210.59 553.10,206.10 553.50,186.80 553.95,201.76 554.50,207.73 554.90,203.20 555.35,209.14 556.20,208.24 556.60,199.10 557.05,207.29 558.53,213.33 559.85,212.13 561.17,207.28 562.10,212.38 562.50,176.00 562.95,196.90 562.90,207.11 563.30,183.30 563.75,200.19 565.00,210.94 565.40,190.90 565.85,203.61 566.70,207.01 567.10,206.00 567.55,210.40 569.10,206.01 569.50,192.10 569.95,204.15 571.25,212.97 572.40,207.68 573.55,207.72 574.70,213.86 575.85,212.98 576.60,208.31 577.00,205.00 577.45,209.95 579.00,213.69 579.40,207.00 579.85,210.85 581.10,210.31 581.50,195.00 581.95,205.45 583.10,211.42 583.50,209.00 583.95,211.75 584.60,207.64 585.00,197.40 585.45,206.53 586.80,213.53 588.00,211.53 589.20,213.73 590.40,213.15 591.60,208.39 592.80,208.89 593.60,207.33 594.00,179.80 594.45,198.61 595.90,207.17 596.30,183.30 596.75,200.19 598.00,206.52 598.40,192.10 598.85,204.15 600.00,208.41 600.40,205.00 600.85,209.95 602.30,210.82 602.70,204.40 603.15,209.68 604.70,206.03 605.10,199.10 605.55,207.29 607.00,211.42 607.40,196.80 607.85,206.26 608.10,208.70 608.50,195.60 608.95,205.72 610.25,208.48 611.00,212.55 611.40,190.90 611.85,203.61 613.33,209.85 614.65,208.53 615.97,209.85 616.90,211.64 617.30,195.60 617.75,205.72 619.05,206.46 619.80,213.80 620.20,193.30 620.65,204.69 622.10,206.18 622.50,205.00 622.95,209.95 624.25,212.00 625.00,212.76 625.40,196.80 625.85,206.26 627.20,206.14 628.00,212.30 628.40,196.20 628.85,205.99 629.70,208.93 630.10,193.30 630.55,204.69 631.50,210.63 631.90,194.40 632.35,205.18 633.20,206.07 633.60,191.50 634.05,203.88 635.60,206.37 636.00,207.90 636.45,211.25 637.85,207.45 638.70,213.64 639.10,185.10 639.55,201.00 641.40,207.57 641.80,205.00 642.25,209.95 643.55,212.05 644.30,213.44 644.70,184.50 645.15,200.72 646.45,213.54 647.20,208.76 647.60,188.00 648.05,202.30 649.50,208.84 650.40,210.20 650.80,185.10 651.25,201.00 651.90,212.20 652.30,199.10 652.75,207.29 654.45,206.86 655.60,211.99 656.00,182.20 656.45,199.69 658.30,212.38 658.70,196.20 659.15,205.99 660.45,212.88 661.20,206.29 661.60,200.90 662.05,208.10 663.00,213.57 663.40,189.80 663.85,203.11 665.45,206.73 666.50,208.73 666.90,200.30 667.35,207.84 668.80,210.89 669.20,205.00 669.65,209.95 671.20,213.34 671.60,196.20 672.05,205.99 673.50,208.72 673.90,193.30 674.35,204.69 675.80,213.39 676.20,208.50 676.65,211.53 678.25,210.36 679.30,208.50 679.70,190.90 680.15,203.61 681.70,208.53 682.10,210.00 682.55,212.20 683.00,207.42" fill="none" stroke="#7c1c8c" stroke-width="1.3" stroke-linejoin="round" />
</g>
<g clip-path="url(#cp53)">
<polyline points="528.50,252.04 529.90,252.31 530.90,249.11 531.30,230.70 531.75,243.51 533.15,246.99 534.00,244.50 534.40,236.00 534.85,245.90 535.80,250.80 536.20,215.00 536.65,236.45 537.20,248.97 537.60,215.00 538.05,236.45 538.70,251.72 539.10,233.00 539.55,244.55 540.70,248.05 541.10,215.00 541.55,236.45 541.80,251.82 542.20,215.00 542.65,236.45 543.40,247.09 543.80,232.40 544.25,244.28 545.10,252.12 545.50,216.70 545.95,237.22 546.90,251.43 547.30,226.00 547.75,241.40 548.40,248.43 548.80,235.40 549.25,245.63 550.62,249.61 551.85,250.98 553.07,246.33 553.90,249.76 554.30,230.70 554.75,243.51 555.60,252.15 556.00,215.00 556.45,236.45 556.80,247.02 557.20,219.00 557.65,238.25 558.20,252.13 558.60,243.00 559.05,249.05 560.70,251.01 561.80,252.52 562.20,218.40 562.65,237.98 563.20,247.69 563.60,235.40 564.05,245.63 565.60,245.38 566.00,234.20 566.45,245.09 567.70,252.10 568.80,252.15 569.90,248.73 571.00,245.39 571.70,246.37 572.10,215.00 572.55,236.45 572.90,250.53 573.30,215.00 573.75,236.45 575.45,247.27 576.60,253.54 577.00,215.00 577.45,236.45 578.40,250.09 578.80,220.20 579.25,238.79 580.40,246.41 580.80,226.60 581.25,241.67 581.90,250.73 582.30,231.30 582.75,243.78 584.35,247.92 585.40,253.36 585.80,215.00 586.25,236.45 586.60,253.14 587.00,215.00 587.45,236.45 588.30,249.39 588.70,225.40 589.15,241.13 589.50,250.62 589.90,226.00 590.35,241.40 591.20,251.13 591.60,228.40 592.05,242.48 593.00,252.15 593.40,229.50 593.85,242.97 595.30,253.78 595.70,237.10 596.15,246.40 597.75,244.77 598.80,247.93 599.20,215.00 599.65,236.45 600.60,250.22 601.00,240.00 601.45,247.70 603.05,247.39 604.10,250.10 604.50,217.80 604.95,237.71 606.90,245.35 607.30,234.20 607.75,245.09 609.00,252.86 609.40,234.20 609.85,245.09 611.30,249.49 612.20,245.61 612.60,223.10 613.05,240.09 614.57,250.80 615.93,247.47 616.90,246.36 617.30,217.80 617.75,237.71 618.40,249.10 618.80,234.80 619.25,245.36 620.95,245.81 622.10,246.49 622.50,218.40 622.95,237.98 623.90,252.72 624.30,234.20 624.75,245.09 625.60,251.13 626.00,234.20 626.45,245.09 628.20,244.62 629.40,251.89 629.80,223.10 630.25,240.09 631.67,244.66 632.93,247.66 633.80,253.09 634.20,215.00 634.65,236.45 635.20,250.39 635.60,229.50 636.05,242.97 637.30,247.41 637.70,232.40 638.15,244.28 639.57,248.09 640.83,248.20 641.70,245.70 642.10,232.40 642.55,244.28 643.94,254.00 645.18,245.01 646.41,248.52 647.65,251.59 648.89,248.28 650.12,253.82 651.36,246.83 652.20,253.80 652.60,219.60 653.05,238.52 654.60,252.98 655.60,250.87 656.00,215.00 656.45,236.45 656.60,252.95 657.00,229.50 657.45,242.97 658.30,248.75 658.70,233.00 659.15,244.55 660.70,252.40 661.10,215.00 661.55,236.45 663.00,252.06 663.40,215.00 663.85,236.45 664.20,249.41 664.60,215.00 665.05,236.45 665.30,248.97 665.70,221.30 666.15,239.28 667.70,251.20 668.10,215.00 668.55,236.45 670.00,248.39 670.40,215.00 670.85,236.45 672.30,245.32 672.70,229.50 673.15,242.97 674.50,251.59 675.30,247.03 675.70,230.70 676.15,243.51 677.60,249.13 678.00,228.40 678.45,242.48 679.30,251.95 679.70,234.20 680.15,245.09 681.10,246.14 681.50,236.50 681.95,246.12 683.00,244.71" fill="none" stroke="#111" stroke-width="1.3" stroke-linejoin="round" />
</g>
<line x1="215.00" y1="17.40" x2="215.00" y2="256.50" stroke="#000" stroke-width="2" />
<line x1="372.00" y1="17.40" x2="372.00" y2="256.50" stroke="#000" stroke-width="2" />
<line x1="528.00" y1="17.40" x2="528.00" y2="256.50" stroke="#000" stroke-width="2" />
<text x="57.30" y="59.40" font-size="8.5" text-anchor="end" fill="#111" textLength="10.5" lengthAdjust="spacingAndGlyphs">0.0</text>
<line x1="58.80" y1="56.40" x2="60.60" y2="56.40" stroke="#444" stroke-width="0.8" />
<text x="57.30" y="43.80" font-size="8.5" text-anchor="end" fill="#111" textLength="10.5" lengthAdjust="spacingAndGlyphs">0.2</text>
<line x1="58.80" y1="40.80" x2="60.60" y2="40.80" stroke="#444" stroke-width="0.8" />
<text x="57.30" y="28.20" font-size="8.5" text-anchor="end" fill="#111" textLength="10.5" lengthAdjust="spacingAndGlyphs">0.4</text>
<line x1="58.80" y1="25.20" x2="60.60" y2="25.20" stroke="#444" stroke-width="0.8" />
<line x1="59.60" y1="48.60" x2="60.60" y2="48.60" stroke="#666" stroke-width="0.6" />
<line x1="59.60" y1="33.00" x2="60.60" y2="33.00" stroke="#666" stroke-width="0.6" />
<text x="63.00" y="29.60" font-size="10.8" text-anchor="start" fill="#6a6ad8" >ε = 0 %</text>
<text x="57.30" y="99.40" font-size="8.5" text-anchor="end" fill="#111" textLength="10.5" lengthAdjust="spacingAndGlyphs">0.0</text>
<line x1="58.80" y1="96.40" x2="60.60" y2="96.40" stroke="#444" stroke-width="0.8" />
<text x="57.30" y="83.80" font-size="8.5" text-anchor="end" fill="#111" textLength="10.5" lengthAdjust="spacingAndGlyphs">0.2</text>
<line x1="58.80" y1="80.80" x2="60.60" y2="80.80" stroke="#444" stroke-width="0.8" />
<text x="57.30" y="68.20" font-size="8.5" text-anchor="end" fill="#111" textLength="10.5" lengthAdjust="spacingAndGlyphs">0.4</text>
<line x1="58.80" y1="65.20" x2="60.60" y2="65.20" stroke="#444" stroke-width="0.8" />
<line x1="59.60" y1="88.60" x2="60.60" y2="88.60" stroke="#666" stroke-width="0.6" />
<line x1="59.60" y1="73.00" x2="60.60" y2="73.00" stroke="#666" stroke-width="0.6" />
<text x="63.00" y="69.60" font-size="10.8" text-anchor="start" fill="#6a6ad8" >0.35 %</text>
<text x="57.30" y="139.00" font-size="8.5" text-anchor="end" fill="#111" textLength="10.5" lengthAdjust="spacingAndGlyphs">0.0</text>
<line x1="58.80" y1="136.00" x2="60.60" y2="136.00" stroke="#444" stroke-width="0.8" />
<text x="57.30" y="123.40" font-size="8.5" text-anchor="end" fill="#111" textLength="10.5" lengthAdjust="spacingAndGlyphs">0.2</text>
<line x1="58.80" y1="120.40" x2="60.60" y2="120.40" stroke="#444" stroke-width="0.8" />
<text x="57.30" y="107.80" font-size="8.5" text-anchor="end" fill="#111" textLength="10.5" lengthAdjust="spacingAndGlyphs">0.4</text>
<line x1="58.80" y1="104.80" x2="60.60" y2="104.80" stroke="#444" stroke-width="0.8" />
<line x1="59.60" y1="128.20" x2="60.60" y2="128.20" stroke="#666" stroke-width="0.6" />
<line x1="59.60" y1="112.60" x2="60.60" y2="112.60" stroke="#666" stroke-width="0.6" />
<text x="63.00" y="109.20" font-size="10.8" text-anchor="start" fill="#6a6ad8" >0.87 %</text>
<text x="57.30" y="178.40" font-size="8.5" text-anchor="end" fill="#111" textLength="10.5" lengthAdjust="spacingAndGlyphs">0.0</text>
<line x1="58.80" y1="175.40" x2="60.60" y2="175.40" stroke="#444" stroke-width="0.8" />
<text x="57.30" y="162.80" font-size="8.5" text-anchor="end" fill="#111" textLength="10.5" lengthAdjust="spacingAndGlyphs">0.2</text>
<line x1="58.80" y1="159.80" x2="60.60" y2="159.80" stroke="#444" stroke-width="0.8" />
<text x="57.30" y="147.20" font-size="8.5" text-anchor="end" fill="#111" textLength="10.5" lengthAdjust="spacingAndGlyphs">0.4</text>
<line x1="58.80" y1="144.20" x2="60.60" y2="144.20" stroke="#444" stroke-width="0.8" />
<line x1="59.60" y1="167.60" x2="60.60" y2="167.60" stroke="#666" stroke-width="0.6" />
<line x1="59.60" y1="152.00" x2="60.60" y2="152.00" stroke="#666" stroke-width="0.6" />
<text x="63.00" y="148.60" font-size="10.8" text-anchor="start" fill="#6a6ad8" >1.37 %</text>
<text x="57.30" y="218.10" font-size="8.5" text-anchor="end" fill="#111" textLength="10.5" lengthAdjust="spacingAndGlyphs">0.0</text>
<line x1="58.80" y1="215.10" x2="60.60" y2="215.10" stroke="#444" stroke-width="0.8" />
<text x="57.30" y="202.50" font-size="8.5" text-anchor="end" fill="#111" textLength="10.5" lengthAdjust="spacingAndGlyphs">0.2</text>
<line x1="58.80" y1="199.50" x2="60.60" y2="199.50" stroke="#444" stroke-width="0.8" />
<text x="57.30" y="186.90" font-size="8.5" text-anchor="end" fill="#111" textLength="10.5" lengthAdjust="spacingAndGlyphs">0.4</text>
<line x1="58.80" y1="183.90" x2="60.60" y2="183.90" stroke="#444" stroke-width="0.8" />
<line x1="59.60" y1="207.30" x2="60.60" y2="207.30" stroke="#666" stroke-width="0.6" />
<line x1="59.60" y1="191.70" x2="60.60" y2="191.70" stroke="#666" stroke-width="0.6" />
<text x="63.00" y="188.30" font-size="10.8" text-anchor="start" fill="#6a6ad8" >1.67 %</text>
<text x="57.30" y="257.80" font-size="8.5" text-anchor="end" fill="#111" textLength="10.5" lengthAdjust="spacingAndGlyphs">0.0</text>
<line x1="58.80" y1="254.80" x2="60.60" y2="254.80" stroke="#444" stroke-width="0.8" />
<text x="57.30" y="242.20" font-size="8.5" text-anchor="end" fill="#111" textLength="10.5" lengthAdjust="spacingAndGlyphs">0.2</text>
<line x1="58.80" y1="239.20" x2="60.60" y2="239.20" stroke="#444" stroke-width="0.8" />
<text x="57.30" y="226.60" font-size="8.5" text-anchor="end" fill="#111" textLength="10.5" lengthAdjust="spacingAndGlyphs">0.4</text>
<line x1="58.80" y1="223.60" x2="60.60" y2="223.60" stroke="#444" stroke-width="0.8" />
<line x1="59.60" y1="247.00" x2="60.60" y2="247.00" stroke="#666" stroke-width="0.6" />
<line x1="59.60" y1="231.40" x2="60.60" y2="231.40" stroke="#666" stroke-width="0.6" />
<text x="63.00" y="228.00" font-size="10.8" text-anchor="start" fill="#6a6ad8" >2.61%</text>
<text x="210.8" y="28.1" font-size="10.4" font-weight="bold" text-anchor="end">V<tspan font-size="7" dy="2.6">in</tspan><tspan dy="-2.6"> = 1 V</tspan></text>
<text x="367.40" y="28.20" font-size="10.7" text-anchor="end" font-weight="bold" fill="#000" >1.5 V</text>
<text x="524.30" y="28.20" font-size="10.6" text-anchor="end" font-weight="bold" fill="#000" >2 V</text>
<text x="680.80" y="28.20" font-size="10.7" text-anchor="end" font-weight="bold" fill="#000" >2.2 V</text>
<line x1="64.70" y1="254.80" x2="64.70" y2="256.80" stroke="#444" stroke-width="0.8" />
<line x1="107.85" y1="254.80" x2="107.85" y2="256.80" stroke="#444" stroke-width="0.8" />
<line x1="151.00" y1="254.80" x2="151.00" y2="256.80" stroke="#444" stroke-width="0.8" />
<line x1="194.15" y1="254.80" x2="194.15" y2="256.80" stroke="#444" stroke-width="0.8" />
<text x="64.70" y="263.90" font-size="7.4" text-anchor="middle" fill="#222" >0.0</text>
<text x="151.00" y="263.90" font-size="7.4" text-anchor="middle" fill="#222" >0.2</text>
<line x1="219.30" y1="254.80" x2="219.30" y2="256.80" stroke="#444" stroke-width="0.8" />
<line x1="262.45" y1="254.80" x2="262.45" y2="256.80" stroke="#444" stroke-width="0.8" />
<line x1="305.60" y1="254.80" x2="305.60" y2="256.80" stroke="#444" stroke-width="0.8" />
<line x1="348.75" y1="254.80" x2="348.75" y2="256.80" stroke="#444" stroke-width="0.8" />
<text x="219.30" y="263.90" font-size="6.8" text-anchor="middle" fill="#222" >0.0</text>
<text x="305.60" y="263.90" font-size="6.8" text-anchor="middle" fill="#222" >0.2</text>
<line x1="376.30" y1="254.80" x2="376.30" y2="256.80" stroke="#444" stroke-width="0.8" />
<line x1="419.45" y1="254.80" x2="419.45" y2="256.80" stroke="#444" stroke-width="0.8" />
<line x1="462.60" y1="254.80" x2="462.60" y2="256.80" stroke="#444" stroke-width="0.8" />
<line x1="505.75" y1="254.80" x2="505.75" y2="256.80" stroke="#444" stroke-width="0.8" />
<text x="376.30" y="263.90" font-size="6.8" text-anchor="middle" fill="#222" >0.0</text>
<text x="462.60" y="263.90" font-size="6.8" text-anchor="middle" fill="#222" >0.2</text>
<line x1="528.40" y1="254.80" x2="528.40" y2="256.80" stroke="#444" stroke-width="0.8" />
<line x1="572.70" y1="254.80" x2="572.70" y2="256.80" stroke="#444" stroke-width="0.8" />
<line x1="617.00" y1="254.80" x2="617.00" y2="256.80" stroke="#444" stroke-width="0.8" />
<line x1="661.30" y1="254.80" x2="661.30" y2="256.80" stroke="#444" stroke-width="0.8" />
<text x="528.40" y="263.90" font-size="6.8" text-anchor="middle" fill="#222" >0.0</text>
<text x="617.00" y="263.90" font-size="6.8" text-anchor="middle" fill="#222" >0.2</text>
<line x1="60.40" y1="255.20" x2="683.00" y2="255.20" stroke="#444" stroke-width="1" />
<text x="137.80" y="282.50" font-size="14.3" text-anchor="middle" font-weight="bold" fill="#000" >Time (s)</text>
<text x="292.90" y="282.30" font-size="14.3" text-anchor="middle" font-weight="bold" fill="#000" >Time (s)</text>
<text x="449.80" y="282.30" font-size="14.0" text-anchor="middle" font-weight="bold" fill="#000" >Time (s)</text>
<text x="605.90" y="280.00" font-size="12.0" text-anchor="middle" font-weight="bold" fill="#000" >Time (s)</text>
<text x="28.40" y="136.50" font-size="15.1" text-anchor="middle" font-weight="bold" fill="#000" transform="rotate(-90 28.40 136.50)">Output Voltage (V)</text>
<text x="-1.40" y="12.30" font-size="21.5" text-anchor="start" font-weight="bold" fill="#000" >a</text>
</g>
<g id="panel-b">
<line x1="63.40" y1="296.40" x2="214.50" y2="296.40" stroke="#777" stroke-width="1" />
<line x1="214.50" y1="296.40" x2="214.50" y2="418.30" stroke="#777" stroke-width="1" />
<line x1="63.40" y1="296.40" x2="63.40" y2="418.30" stroke="#333" stroke-width="1" />
<line x1="63.40" y1="418.30" x2="214.50" y2="418.30" stroke="#333" stroke-width="1" />
<line x1="60.40" y1="396.40" x2="63.40" y2="396.40" stroke="#333" stroke-width="0.9" />
<text x="58.90" y="399.90" font-size="10.2" text-anchor="end" fill="#111" >0.8</text>
<line x1="60.40" y1="367.70" x2="63.40" y2="367.70" stroke="#333" stroke-width="0.9" />
<text x="58.90" y="371.20" font-size="10.2" text-anchor="end" fill="#111" >1.2</text>
<line x1="60.40" y1="339.00" x2="63.40" y2="339.00" stroke="#333" stroke-width="0.9" />
<text x="58.90" y="342.50" font-size="10.2" text-anchor="end" fill="#111" >1.6</text>
<line x1="60.40" y1="310.30" x2="63.40" y2="310.30" stroke="#333" stroke-width="0.9" />
<text x="58.90" y="313.80" font-size="10.2" text-anchor="end" fill="#111" >2.0</text>
<line x1="61.60" y1="410.75" x2="63.40" y2="410.75" stroke="#333" stroke-width="0.8" />
<line x1="61.60" y1="382.05" x2="63.40" y2="382.05" stroke="#333" stroke-width="0.8" />
<line x1="61.60" y1="353.35" x2="63.40" y2="353.35" stroke="#333" stroke-width="0.8" />
<line x1="61.60" y1="324.65" x2="63.40" y2="324.65" stroke="#333" stroke-width="0.8" />
<line x1="85.00" y1="418.30" x2="85.00" y2="421.30" stroke="#333" stroke-width="0.9" />
<text x="85.00" y="431.00" font-size="10.6" text-anchor="middle" fill="#111" >0</text>
<line x1="128.10" y1="418.30" x2="128.10" y2="421.30" stroke="#333" stroke-width="0.9" />
<text x="128.10" y="431.00" font-size="10.6" text-anchor="middle" fill="#111" >1</text>
<line x1="171.20" y1="418.30" x2="171.20" y2="421.30" stroke="#333" stroke-width="0.9" />
<text x="171.20" y="431.00" font-size="10.6" text-anchor="middle" fill="#111" >2</text>
<line x1="214.30" y1="418.30" x2="214.30" y2="421.30" stroke="#333" stroke-width="0.9" />
<text x="214.30" y="431.00" font-size="10.6" text-anchor="middle" fill="#111" >3</text>
<line x1="106.55" y1="418.30" x2="106.55" y2="420.10" stroke="#333" stroke-width="0.8" />
<line x1="149.65" y1="418.30" x2="149.65" y2="420.10" stroke="#333" stroke-width="0.8" />
<line x1="192.75" y1="418.30" x2="192.75" y2="420.10" stroke="#333" stroke-width="0.8" />
<polyline points="85.00,310.30 100.08,321.06 122.50,353.35 144.05,367.70 156.98,392.81 197.49,403.58" fill="none" stroke="#111" stroke-width="1.1" stroke-linejoin="round" />
<rect x="82.40" y="307.70" width="5.20" height="5.20" fill="#7f7f7f" stroke="none" stroke-width="1" />
<rect x="97.48" y="318.46" width="5.20" height="5.20" fill="#b4c0f8" stroke="none" stroke-width="1" />
<rect x="119.90" y="350.75" width="5.20" height="5.20" fill="#5a78f0" stroke="none" stroke-width="1" />
<rect x="141.45" y="365.10" width="5.20" height="5.20" fill="#1a2ed0" stroke="none" stroke-width="1" />
<rect x="154.38" y="390.21" width="5.20" height="5.20" fill="#7a1a8a" stroke="none" stroke-width="1" />
<rect x="194.89" y="400.98" width="5.20" height="5.20" fill="#000" stroke="none" stroke-width="1" />
<text x="24.40" y="359.30" font-size="12.4" text-anchor="middle" font-weight="bold" fill="#000" transform="rotate(-90 24.40 359.30)">Minimum</text>
<text x="40.60" y="356.80" font-size="12.5" text-anchor="middle" font-weight="bold" fill="#000" transform="rotate(-90 40.60 356.80)">Firing Voltage (V)</text>
<text x="138.80" y="446.00" font-size="12.3" text-anchor="middle" font-weight="bold" fill="#000" >Strain (%)</text>
<text x="3.60" y="298.90" font-size="22.2" text-anchor="start" font-weight="bold" fill="#000" >b</text>
</g>
<g id="panel-c">
<line x1="291.20" y1="297.20" x2="450.00" y2="297.20" stroke="#777" stroke-width="1" />
<line x1="450.00" y1="297.20" x2="450.00" y2="418.30" stroke="#777" stroke-width="1" />
<line x1="291.20" y1="297.20" x2="291.20" y2="418.30" stroke="#333" stroke-width="1" />
<line x1="291.20" y1="418.30" x2="450.00" y2="418.30" stroke="#333" stroke-width="1" />
<line x1="288.20" y1="413.60" x2="291.20" y2="413.60" stroke="#333" stroke-width="0.9" />
<text x="287.40" y="417.10" font-size="10.0" text-anchor="end" fill="#111" >0</text>
<line x1="288.20" y1="399.61" x2="291.20" y2="399.61" stroke="#333" stroke-width="0.9" />
<text x="287.40" y="403.11" font-size="10.0" text-anchor="end" fill="#111" >30</text>
<line x1="288.20" y1="385.62" x2="291.20" y2="385.62" stroke="#333" stroke-width="0.9" />
<text x="287.40" y="389.12" font-size="10.0" text-anchor="end" fill="#111" >60</text>
<line x1="288.20" y1="371.63" x2="291.20" y2="371.63" stroke="#333" stroke-width="0.9" />
<text x="287.40" y="375.13" font-size="10.0" text-anchor="end" fill="#111" >90</text>
<line x1="288.20" y1="357.64" x2="291.20" y2="357.64" stroke="#333" stroke-width="0.9" />
<text x="287.40" y="361.14" font-size="10.0" text-anchor="end" fill="#111" >120</text>
<line x1="288.20" y1="343.66" x2="291.20" y2="343.66" stroke="#333" stroke-width="0.9" />
<text x="287.40" y="347.16" font-size="10.0" text-anchor="end" fill="#111" >150</text>
<line x1="288.20" y1="329.67" x2="291.20" y2="329.67" stroke="#333" stroke-width="0.9" />
<text x="287.40" y="333.17" font-size="10.0" text-anchor="end" fill="#111" >180</text>
<line x1="288.20" y1="315.68" x2="291.20" y2="315.68" stroke="#333" stroke-width="0.9" />
<text x="287.40" y="319.18" font-size="10.0" text-anchor="end" fill="#111" >210</text>
<line x1="288.20" y1="301.69" x2="291.20" y2="301.69" stroke="#333" stroke-width="0.9" />
<text x="287.40" y="305.19" font-size="10.0" text-anchor="end" fill="#111" >240</text>
<line x1="289.40" y1="406.61" x2="291.20" y2="406.61" stroke="#333" stroke-width="0.8" />
<line x1="289.40" y1="392.62" x2="291.20" y2="392.62" stroke="#333" stroke-width="0.8" />
<line x1="289.40" y1="378.63" x2="291.20" y2="378.63" stroke="#333" stroke-width="0.8" />
<line x1="289.40" y1="364.64" x2="291.20" y2="364.64" stroke="#333" stroke-width="0.8" />
<line x1="289.40" y1="350.65" x2="291.20" y2="350.65" stroke="#333" stroke-width="0.8" />
<line x1="289.40" y1="336.66" x2="291.20" y2="336.66" stroke="#333" stroke-width="0.8" />
<line x1="289.40" y1="322.67" x2="291.20" y2="322.67" stroke="#333" stroke-width="0.8" />
<line x1="289.40" y1="308.68" x2="291.20" y2="308.68" stroke="#333" stroke-width="0.8" />
<line x1="314.10" y1="418.30" x2="314.10" y2="421.30" stroke="#333" stroke-width="0.9" />
<text x="314.10" y="430.30" font-size="10.4" text-anchor="middle" fill="#111" >0</text>
<line x1="359.30" y1="418.30" x2="359.30" y2="421.30" stroke="#333" stroke-width="0.9" />
<text x="359.30" y="430.30" font-size="10.4" text-anchor="middle" fill="#111" >1</text>
<line x1="404.50" y1="418.30" x2="404.50" y2="421.30" stroke="#333" stroke-width="0.9" />
<text x="404.50" y="430.30" font-size="10.4" text-anchor="middle" fill="#111" >2</text>
<line x1="449.70" y1="418.30" x2="449.70" y2="421.30" stroke="#333" stroke-width="0.9" />
<text x="449.70" y="430.30" font-size="10.4" text-anchor="middle" fill="#111" >3</text>
<line x1="336.70" y1="418.30" x2="336.70" y2="420.10" stroke="#333" stroke-width="0.8" />
<line x1="381.90" y1="418.30" x2="381.90" y2="420.10" stroke="#333" stroke-width="0.8" />
<line x1="427.10" y1="418.30" x2="427.10" y2="420.10" stroke="#333" stroke-width="0.8" />
<polyline points="314.10,413.60 329.92,413.60 353.42,413.60 376.02,413.60 389.58,408.24 432.07,394.71" fill="none" stroke="#888888" stroke-width="1" stroke-linejoin="round" />
<polyline points="314.10,413.60 329.92,413.60 353.42,409.73 376.02,401.29 389.58,395.69 432.07,387.72" fill="none" stroke="#7b1a8b" stroke-width="1" stroke-linejoin="round" />
<polyline points="314.10,410.99 329.92,406.61 353.42,402.22 376.02,395.69 389.58,387.02 432.07,375.41" fill="none" stroke="#1414e0" stroke-width="1" stroke-linejoin="round" />
<polyline points="314.10,406.61 329.92,401.29 353.42,394.71 376.02,384.74 389.58,360.26 432.07,309.48" fill="none" stroke="#111" stroke-width="1" stroke-linejoin="round" />
<rect x="311.50" y="411.00" width="5.20" height="5.20" fill="#888888" stroke="none" stroke-width="1" />
<rect x="327.32" y="411.00" width="5.20" height="5.20" fill="#888888" stroke="none" stroke-width="1" />
<rect x="350.82" y="411.00" width="5.20" height="5.20" fill="#888888" stroke="none" stroke-width="1" />
<rect x="373.42" y="411.00" width="5.20" height="5.20" fill="#888888" stroke="none" stroke-width="1" />
<rect x="386.98" y="405.64" width="5.20" height="5.20" fill="#888888" stroke="none" stroke-width="1" />
<rect x="429.47" y="392.11" width="5.20" height="5.20" fill="#888888" stroke="none" stroke-width="1" />
<circle cx="314.10" cy="413.60" r="2.9" fill="#7b1a8b"/>
<circle cx="329.92" cy="413.60" r="2.9" fill="#7b1a8b"/>
<circle cx="353.42" cy="409.73" r="2.9" fill="#7b1a8b"/>
<circle cx="376.02" cy="401.29" r="2.9" fill="#7b1a8b"/>
<circle cx="389.58" cy="395.69" r="2.9" fill="#7b1a8b"/>
<circle cx="432.07" cy="387.72" r="2.9" fill="#7b1a8b"/>
<polygon points="314.10,406.89 317.52,412.83 310.68,412.83" fill="#1414e0"/>
<polygon points="329.92,402.51 333.34,408.45 326.50,408.45" fill="#1414e0"/>
<polygon points="353.42,398.12 356.84,404.06 350.00,404.06" fill="#1414e0"/>
<polygon points="376.02,391.59 379.44,397.53 372.60,397.53" fill="#1414e0"/>
<polygon points="389.58,382.92 393.00,388.86 386.16,388.86" fill="#1414e0"/>
<polygon points="432.07,371.31 435.49,377.25 428.65,377.25" fill="#1414e0"/>
<polygon points="314.10,403.31 317.24,405.59 316.04,409.28 312.16,409.28 310.96,405.59" fill="#000"/>
<polygon points="329.92,397.99 333.06,400.27 331.86,403.96 327.98,403.96 326.78,400.27" fill="#000"/>
<polygon points="353.42,391.41 356.56,393.70 355.36,397.38 351.48,397.38 350.29,393.70" fill="#000"/>
<polygon points="376.02,381.44 379.16,383.72 377.96,387.41 374.08,387.41 372.89,383.72" fill="#000"/>
<polygon points="389.58,356.96 392.72,359.24 391.52,362.93 387.64,362.93 386.45,359.24" fill="#000"/>
<polygon points="432.07,306.18 435.21,308.46 434.01,312.14 430.13,312.14 428.93,308.46" fill="#000"/>
<line x1="296.20" y1="306.60" x2="313.70" y2="306.60" stroke="#888888" stroke-width="1" />
<rect x="303.00" y="304.10" width="5.00" height="5.00" fill="#888888" stroke="none" stroke-width="1" />
<text x="317.2" y="309.60" font-size="8.3" font-weight="bold">V<tspan font-size="6" dy="1.8">DC</tspan><tspan dy="-1.8"> = 1 V</tspan></text>
<line x1="296.20" y1="318.40" x2="313.70" y2="318.40" stroke="#7b1a8b" stroke-width="1" />
<circle cx="305.5" cy="318.4" r="2.9" fill="#7b1a8b"/>
<text x="317.2" y="321.40" font-size="8.3" font-weight="bold">V<tspan font-size="6" dy="1.8">DC</tspan><tspan dy="-1.8"> = 1.5 V</tspan></text>
<line x1="296.20" y1="331.00" x2="313.70" y2="331.00" stroke="#1414e0" stroke-width="1" />
<polygon points="305.50,326.90 308.92,332.84 302.08,332.84" fill="#1414e0"/>
<text x="317.2" y="334.00" font-size="8.3" font-weight="bold">V<tspan font-size="6" dy="1.8">DC</tspan><tspan dy="-1.8"> = 2 V</tspan></text>
<line x1="296.20" y1="343.40" x2="313.70" y2="343.40" stroke="#111" stroke-width="1" />
<polygon points="305.50,340.10 308.64,342.38 307.44,346.07 303.56,346.07 302.36,342.38" fill="#000"/>
<text x="317.2" y="346.40" font-size="8.3" font-weight="bold">V<tspan font-size="6" dy="1.8">DC</tspan><tspan dy="-1.8"> = 2.2 V</tspan></text>
<text x="264.60" y="357.90" font-size="11.5" text-anchor="middle" font-weight="bold" fill="#000" transform="rotate(-90 264.60 357.90)">Firing Rate (Hz)</text>
<text x="370.30" y="447.10" font-size="11.3" text-anchor="middle" font-weight="bold" fill="#000" >Strain (%)</text>
<text x="236.60" y="298.60" font-size="21.8" text-anchor="start" font-weight="bold" fill="#000" >c</text>
</g>
<g id="panel-d">
<line x1="530.60" y1="298.30" x2="681.00" y2="298.30" stroke="#777" stroke-width="1" />
<line x1="681.00" y1="298.30" x2="681.00" y2="419.30" stroke="#777" stroke-width="1" />
<line x1="530.60" y1="298.30" x2="530.60" y2="419.30" stroke="#333" stroke-width="1" />
<line x1="530.60" y1="419.30" x2="681.00" y2="419.30" stroke="#333" stroke-width="1" />
<line x1="527.60" y1="315.89" x2="530.60" y2="315.89" stroke="#333" stroke-width="0.9" />
<text x="527.00" y="319.09" font-size="9.2" text-anchor="end" fill="#111">10<tspan font-size="6.4" dy="-3.8">-7</tspan></text>
<line x1="527.60" y1="367.70" x2="530.60" y2="367.70" stroke="#333" stroke-width="0.9" />
<text x="527.00" y="370.90" font-size="9.2" text-anchor="end" fill="#111">10<tspan font-size="6.4" dy="-3.8">-10</tspan></text>
<line x1="527.60" y1="419.51" x2="530.60" y2="419.51" stroke="#333" stroke-width="0.9" />
<text x="527.00" y="422.71" font-size="9.2" text-anchor="end" fill="#111">10<tspan font-size="6.4" dy="-3.8">-13</tspan></text>
<line x1="529.40" y1="414.31" x2="530.60" y2="414.31" stroke="#555" stroke-width="0.5" />
<line x1="529.40" y1="411.27" x2="530.60" y2="411.27" stroke="#555" stroke-width="0.5" />
<line x1="529.40" y1="409.11" x2="530.60" y2="409.11" stroke="#555" stroke-width="0.5" />
<line x1="529.40" y1="407.44" x2="530.60" y2="407.44" stroke="#555" stroke-width="0.5" />
<line x1="529.40" y1="406.07" x2="530.60" y2="406.07" stroke="#555" stroke-width="0.5" />
<line x1="529.40" y1="404.92" x2="530.60" y2="404.92" stroke="#555" stroke-width="0.5" />
<line x1="529.40" y1="403.91" x2="530.60" y2="403.91" stroke="#555" stroke-width="0.5" />
<line x1="529.40" y1="403.03" x2="530.60" y2="403.03" stroke="#555" stroke-width="0.5" />
<line x1="529.40" y1="397.04" x2="530.60" y2="397.04" stroke="#555" stroke-width="0.5" />
<line x1="529.40" y1="394.00" x2="530.60" y2="394.00" stroke="#555" stroke-width="0.5" />
<line x1="529.40" y1="391.84" x2="530.60" y2="391.84" stroke="#555" stroke-width="0.5" />
<line x1="529.40" y1="390.17" x2="530.60" y2="390.17" stroke="#555" stroke-width="0.5" />
<line x1="529.40" y1="388.80" x2="530.60" y2="388.80" stroke="#555" stroke-width="0.5" />
<line x1="529.40" y1="387.65" x2="530.60" y2="387.65" stroke="#555" stroke-width="0.5" />
<line x1="529.40" y1="386.64" x2="530.60" y2="386.64" stroke="#555" stroke-width="0.5" />
<line x1="529.40" y1="385.76" x2="530.60" y2="385.76" stroke="#555" stroke-width="0.5" />
<line x1="528.60" y1="402.24" x2="530.60" y2="402.24" stroke="#333" stroke-width="0.7" />
<line x1="529.40" y1="379.77" x2="530.60" y2="379.77" stroke="#555" stroke-width="0.5" />
<line x1="529.40" y1="376.73" x2="530.60" y2="376.73" stroke="#555" stroke-width="0.5" />
<line x1="529.40" y1="374.57" x2="530.60" y2="374.57" stroke="#555" stroke-width="0.5" />
<line x1="529.40" y1="372.90" x2="530.60" y2="372.90" stroke="#555" stroke-width="0.5" />
<line x1="529.40" y1="371.53" x2="530.60" y2="371.53" stroke="#555" stroke-width="0.5" />
<line x1="529.40" y1="370.38" x2="530.60" y2="370.38" stroke="#555" stroke-width="0.5" />
<line x1="529.40" y1="369.37" x2="530.60" y2="369.37" stroke="#555" stroke-width="0.5" />
<line x1="529.40" y1="368.49" x2="530.60" y2="368.49" stroke="#555" stroke-width="0.5" />
<line x1="528.60" y1="384.97" x2="530.60" y2="384.97" stroke="#333" stroke-width="0.7" />
<line x1="529.40" y1="362.50" x2="530.60" y2="362.50" stroke="#555" stroke-width="0.5" />
<line x1="529.40" y1="359.46" x2="530.60" y2="359.46" stroke="#555" stroke-width="0.5" />
<line x1="529.40" y1="357.30" x2="530.60" y2="357.30" stroke="#555" stroke-width="0.5" />
<line x1="529.40" y1="355.63" x2="530.60" y2="355.63" stroke="#555" stroke-width="0.5" />
<line x1="529.40" y1="354.26" x2="530.60" y2="354.26" stroke="#555" stroke-width="0.5" />
<line x1="529.40" y1="353.11" x2="530.60" y2="353.11" stroke="#555" stroke-width="0.5" />
<line x1="529.40" y1="352.10" x2="530.60" y2="352.10" stroke="#555" stroke-width="0.5" />
<line x1="529.40" y1="351.22" x2="530.60" y2="351.22" stroke="#555" stroke-width="0.5" />
<line x1="529.40" y1="345.23" x2="530.60" y2="345.23" stroke="#555" stroke-width="0.5" />
<line x1="529.40" y1="342.19" x2="530.60" y2="342.19" stroke="#555" stroke-width="0.5" />
<line x1="529.40" y1="340.03" x2="530.60" y2="340.03" stroke="#555" stroke-width="0.5" />
<line x1="529.40" y1="338.36" x2="530.60" y2="338.36" stroke="#555" stroke-width="0.5" />
<line x1="529.40" y1="336.99" x2="530.60" y2="336.99" stroke="#555" stroke-width="0.5" />
<line x1="529.40" y1="335.84" x2="530.60" y2="335.84" stroke="#555" stroke-width="0.5" />
<line x1="529.40" y1="334.83" x2="530.60" y2="334.83" stroke="#555" stroke-width="0.5" />
<line x1="529.40" y1="333.95" x2="530.60" y2="333.95" stroke="#555" stroke-width="0.5" />
<line x1="528.60" y1="350.43" x2="530.60" y2="350.43" stroke="#333" stroke-width="0.7" />
<line x1="529.40" y1="327.96" x2="530.60" y2="327.96" stroke="#555" stroke-width="0.5" />
<line x1="529.40" y1="324.92" x2="530.60" y2="324.92" stroke="#555" stroke-width="0.5" />
<line x1="529.40" y1="322.76" x2="530.60" y2="322.76" stroke="#555" stroke-width="0.5" />
<line x1="529.40" y1="321.09" x2="530.60" y2="321.09" stroke="#555" stroke-width="0.5" />
<line x1="529.40" y1="319.72" x2="530.60" y2="319.72" stroke="#555" stroke-width="0.5" />
<line x1="529.40" y1="318.57" x2="530.60" y2="318.57" stroke="#555" stroke-width="0.5" />
<line x1="529.40" y1="317.56" x2="530.60" y2="317.56" stroke="#555" stroke-width="0.5" />
<line x1="529.40" y1="316.68" x2="530.60" y2="316.68" stroke="#555" stroke-width="0.5" />
<line x1="528.60" y1="333.16" x2="530.60" y2="333.16" stroke="#333" stroke-width="0.7" />
<line x1="529.40" y1="310.69" x2="530.60" y2="310.69" stroke="#555" stroke-width="0.5" />
<line x1="529.40" y1="307.65" x2="530.60" y2="307.65" stroke="#555" stroke-width="0.5" />
<line x1="529.40" y1="305.49" x2="530.60" y2="305.49" stroke="#555" stroke-width="0.5" />
<line x1="529.40" y1="303.82" x2="530.60" y2="303.82" stroke="#555" stroke-width="0.5" />
<line x1="529.40" y1="302.45" x2="530.60" y2="302.45" stroke="#555" stroke-width="0.5" />
<line x1="529.40" y1="301.30" x2="530.60" y2="301.30" stroke="#555" stroke-width="0.5" />
<line x1="529.40" y1="300.29" x2="530.60" y2="300.29" stroke="#555" stroke-width="0.5" />
<line x1="529.40" y1="299.41" x2="530.60" y2="299.41" stroke="#555" stroke-width="0.5" />
<line x1="552.00" y1="419.30" x2="552.00" y2="422.30" stroke="#333" stroke-width="0.9" />
<text x="552.00" y="432.30" font-size="10.6" text-anchor="middle" fill="#111" >0</text>
<line x1="594.95" y1="419.30" x2="594.95" y2="422.30" stroke="#333" stroke-width="0.9" />
<text x="594.95" y="432.30" font-size="10.6" text-anchor="middle" fill="#111" >1</text>
<line x1="637.90" y1="419.30" x2="637.90" y2="422.30" stroke="#333" stroke-width="0.9" />
<text x="637.90" y="432.30" font-size="10.6" text-anchor="middle" fill="#111" >2</text>
<line x1="680.85" y1="419.30" x2="680.85" y2="422.30" stroke="#333" stroke-width="0.9" />
<text x="680.85" y="432.30" font-size="10.6" text-anchor="middle" fill="#111" >3</text>
<line x1="573.48" y1="419.30" x2="573.48" y2="421.10" stroke="#333" stroke-width="0.8" />
<line x1="616.42" y1="419.30" x2="616.42" y2="421.10" stroke="#333" stroke-width="0.8" />
<line x1="659.38" y1="419.30" x2="659.38" y2="421.10" stroke="#333" stroke-width="0.8" />
<polyline points="552.00,360.00 567.03,363.40 589.37,365.80 610.84,366.60 623.73,365.00 664.10,367.60" fill="none" stroke="#111" stroke-width="1" stroke-linejoin="round" />
<rect x="549.50" y="357.50" width="5.00" height="5.00" fill="#7f7f7f" stroke="none" stroke-width="1" />
<rect x="564.53" y="360.90" width="5.00" height="5.00" fill="#b4c0f8" stroke="none" stroke-width="1" />
<rect x="586.87" y="363.30" width="5.00" height="5.00" fill="#5a78f0" stroke="none" stroke-width="1" />
<rect x="608.34" y="364.10" width="5.00" height="5.00" fill="#1a2ed0" stroke="none" stroke-width="1" />
<rect x="621.23" y="362.50" width="5.00" height="5.00" fill="#7a1a8a" stroke="none" stroke-width="1" />
<rect x="661.60" y="365.10" width="5.00" height="5.00" fill="#000" stroke="none" stroke-width="1" />
<text x="672.60" y="313.60" font-size="10.0" text-anchor="end" font-weight="bold" fill="#000" >@ 2 V</text>
<text x="503.60" y="358.50" font-size="12.5" text-anchor="middle" font-weight="bold" fill="#000" transform="rotate(-90 503.60 358.50)">Energy / Spike (J)</text>
<text x="605.80" y="450.20" font-size="12.5" text-anchor="middle" font-weight="bold" fill="#000" >Strain (%)</text>
<text x="475.80" y="298.80" font-size="22.4" text-anchor="start" font-weight="bold" fill="#000" >d</text>
</g>
<g id="panel-e">
<line x1="54.70" y1="489.80" x2="326.00" y2="489.80" stroke="#777" stroke-width="1.4" />
<line x1="326.00" y1="489.80" x2="326.00" y2="593.00" stroke="#777" stroke-width="1.2" />
<line x1="54.70" y1="591.00" x2="190.40" y2="591.00" stroke="#b0b0b0" stroke-width="1" />
<polyline points="57.90,591.00 58.40,519.20 58.70,551.51 59.20,589.00 60.20,591.00" fill="none" stroke="#c2c2c2" stroke-width="0.75" stroke-linejoin="round" />
<polyline points="71.60,591.00 72.10,565.00 72.40,576.70 72.90,589.00 73.90,591.00" fill="none" stroke="#c2c2c2" stroke-width="0.75" stroke-linejoin="round" />
<polyline points="81.70,591.00 82.20,565.60 82.50,577.03 83.00,589.00 84.00,591.00" fill="none" stroke="#c2c2c2" stroke-width="0.75" stroke-linejoin="round" />
<polyline points="87.70,591.00 88.20,499.70 88.50,540.78 89.00,589.00 90.00,591.00" fill="none" stroke="#9a9a9a" stroke-width="0.75" stroke-linejoin="round" />
<polyline points="108.30,591.00 108.80,533.30 109.10,559.26 109.60,589.00 110.60,591.00" fill="none" stroke="#c2c2c2" stroke-width="0.75" stroke-linejoin="round" />
<polyline points="115.50,591.00 116.00,558.50 116.30,573.12 116.80,589.00 117.80,591.00" fill="none" stroke="#c2c2c2" stroke-width="0.75" stroke-linejoin="round" />
<polyline points="124.00,591.00 124.50,565.00 124.80,576.70 125.30,589.00 126.30,591.00" fill="none" stroke="#c2c2c2" stroke-width="0.75" stroke-linejoin="round" />
<polyline points="127.00,591.00 127.50,565.60 127.80,577.03 128.30,589.00 129.30,591.00" fill="none" stroke="#c2c2c2" stroke-width="0.75" stroke-linejoin="round" />
<polyline points="130.10,591.00 130.60,558.10 130.90,572.90 131.40,589.00 132.40,591.00" fill="none" stroke="#c2c2c2" stroke-width="0.75" stroke-linejoin="round" />
<polyline points="132.10,591.00 132.60,576.60 132.90,583.08 133.40,589.00 134.40,591.00" fill="none" stroke="#c2c2c2" stroke-width="0.75" stroke-linejoin="round" />
<polyline points="137.10,591.00 137.60,556.50 137.90,572.02 138.40,589.00 139.40,591.00" fill="none" stroke="#c2c2c2" stroke-width="0.75" stroke-linejoin="round" />
<polyline points="139.10,591.00 139.60,499.70 139.90,540.78 140.40,589.00 141.40,591.00" fill="none" stroke="#9a9a9a" stroke-width="0.75" stroke-linejoin="round" />
<polyline points="152.80,591.00 153.30,505.70 153.60,544.09 154.10,589.00 155.10,591.00" fill="none" stroke="#9a9a9a" stroke-width="0.75" stroke-linejoin="round" />
<polyline points="169.70,591.00 170.20,565.60 170.50,577.03 171.00,589.00 172.00,591.00" fill="none" stroke="#c2c2c2" stroke-width="0.75" stroke-linejoin="round" />
<polyline points="186.10,591.00 186.60,556.10 186.90,571.81 187.40,589.00 188.40,591.00" fill="none" stroke="#c2c2c2" stroke-width="0.75" stroke-linejoin="round" />
<clipPath id="cpe"><rect x="190.4" y="490.5" width="135.2" height="101.5"/></clipPath>
<g clip-path="url(#cpe)">
<polyline points="190.60,578.99 191.31,574.19 191.90,577.57 192.68,570.12 193.28,563.42 193.73,587.93 194.25,557.40 194.59,570.00 195.03,576.86 195.35,565.15 196.10,528.98 196.77,587.21 197.27,562.91 197.63,565.58 198.16,579.01 198.95,585.01 199.80,565.32 200.43,579.65 201.02,578.04 201.35,566.69 201.79,535.78 202.21,563.92 203.05,537.85 203.81,573.30 204.55,579.61 205.13,566.76 205.55,515.69 206.38,577.33 206.90,563.95 207.43,561.79 207.97,580.92 208.32,568.90 209.22,560.02 209.81,573.13 210.56,576.39 211.23,572.88 211.90,577.87 212.30,578.52 213.16,570.18 213.82,579.62 214.18,580.54 214.97,566.69 215.49,541.44 216.20,563.27 217.07,566.15 217.97,561.42 218.62,516.26 219.22,577.65 219.66,517.45 220.06,586.09 220.84,530.99 221.43,565.10 221.77,574.82 222.24,576.55 222.64,580.49 223.14,563.52 224.03,534.88 224.62,581.16 225.50,557.56 226.23,587.25 226.66,525.30 227.44,565.05 228.10,566.01 228.75,566.37 229.23,558.44 229.70,568.74 230.01,545.34 230.88,587.42 231.53,550.27 232.34,574.01 232.80,568.55 233.67,566.84 234.05,580.23 234.41,587.42 234.98,579.41 235.80,573.21 236.18,560.97 236.67,576.97 237.10,578.89 237.51,579.66 238.24,560.79 238.57,572.51 239.39,542.98 240.16,587.83 240.74,580.68 241.50,584.33 242.23,576.66 242.95,581.56 243.27,571.34 243.76,569.71 244.23,565.48 244.86,569.05 245.22,559.58 245.83,573.48 246.71,575.03 247.43,577.80 248.06,580.71 248.85,569.37 249.37,574.97 250.26,585.98 250.61,580.64 251.40,573.95 251.96,560.26 252.28,576.21 252.84,566.55 253.38,580.76 253.81,580.84 254.37,583.60 255.09,547.68 255.83,579.96 256.27,573.05 256.86,576.90 257.74,580.55 258.33,579.40 259.06,542.39 259.83,577.10 260.58,558.77 261.40,575.90 262.11,577.71 262.96,581.36 263.63,548.22 264.50,571.06 264.81,575.84 265.29,581.31 265.68,565.74 266.03,582.83 266.90,554.32 267.47,586.15 268.35,556.88 268.77,582.27 269.45,558.31 269.91,571.73 270.40,577.52 271.21,585.38 271.92,578.79 272.58,583.26 273.11,539.15 273.69,580.53 274.36,576.80 274.76,581.42 275.23,579.03 276.10,587.41 276.89,539.66 277.61,587.68 278.21,580.90 278.88,576.02 279.32,581.00 279.95,586.38 280.43,570.51 281.27,581.67 281.65,550.84 282.44,578.95 282.77,579.05 283.31,578.56 283.75,550.07 284.56,572.18 285.39,580.98 286.04,586.61 286.87,553.59 287.63,584.72 287.97,548.36 288.63,577.14 289.21,549.19 289.72,583.24 290.23,576.09 290.90,572.18 291.25,580.70 291.85,575.88 292.27,576.87 292.60,587.33 293.20,556.86 293.89,585.13 294.25,536.91 294.88,580.56 295.59,553.28 296.21,586.58 297.00,578.31 297.33,581.62 297.95,560.23 298.35,575.19 298.95,579.42 299.76,573.50 300.60,557.13 301.03,574.08 301.87,566.01 302.72,570.73 303.25,537.07 304.11,573.93 304.42,574.26 305.09,577.26 305.84,559.42 306.24,571.36 306.86,541.67 307.29,569.97 307.92,549.80 308.66,571.85 309.18,580.55 309.72,584.71 310.35,545.78 310.86,585.55 311.18,570.78 311.83,587.50 312.53,578.24 312.89,570.36 313.51,537.46 314.11,585.64 314.56,570.34 315.24,573.08 315.99,557.01 316.45,579.73 316.97,567.12 317.43,577.71 318.01,580.91 318.80,576.87 319.58,551.35 320.32,569.29 320.85,572.06 321.15,575.55 321.80,562.65 322.70,584.34 323.13,552.21 323.92,579.09 324.25,573.21 325.05,578.83 325.63,572.51" fill="none" stroke="#777" stroke-width="0.65" stroke-linejoin="round" />
<polyline points="190.60,520.51 190.89,587.46 191.58,578.32 191.87,572.98 192.26,527.15 192.60,565.66 192.97,555.15 193.63,571.84 194.29,545.04 194.54,566.97 195.04,573.40 195.36,567.51 195.85,518.26 196.44,564.52 196.93,544.63 197.44,581.61 198.11,572.98 198.70,564.03 199.23,579.18 199.84,571.01 200.16,580.75 200.63,587.17 201.29,560.07 201.75,577.34 202.29,515.52 202.66,578.17 203.16,573.20 203.66,573.55 204.09,543.71 204.56,585.63 205.25,569.74 205.68,577.04 206.34,506.90 206.80,576.97 207.08,514.45 207.39,572.85 207.78,571.03 208.17,582.65 208.42,555.54 209.02,569.75 209.34,538.91 209.59,576.34 210.20,508.26 210.65,563.83 211.10,556.03 211.60,559.63 212.18,560.37 212.74,569.53 213.13,526.95 213.74,570.49 214.40,580.96 214.86,569.68 215.25,577.98 215.80,575.43 216.15,580.79 216.83,577.78 217.11,576.27 217.46,562.83 217.77,573.45 218.05,574.33 218.37,569.55 218.94,561.16 219.55,580.82 219.96,563.44 220.20,576.82 220.66,576.96 221.23,535.11 221.68,580.83 222.01,574.05 222.27,568.87 222.58,512.41 223.10,586.37 223.56,548.26 223.81,574.08 224.06,529.58 224.29,569.95 224.97,519.08 225.31,572.84 225.60,570.03 226.23,565.15 226.46,567.84 226.99,583.16 227.59,515.57 228.07,578.18 228.69,558.66 229.01,580.58 229.31,524.78 229.78,569.64 230.38,507.86 230.70,577.48 231.33,535.99 231.74,571.30 232.06,578.66 232.31,578.43 232.65,559.96 233.33,584.22 233.81,526.55 234.32,575.19 234.90,580.95 235.57,571.64 236.17,533.22 236.44,586.43 236.76,562.38 237.42,566.84 237.84,553.72 238.41,580.36 239.08,522.18 239.65,567.62 240.25,552.25 240.63,581.72 240.97,580.72 241.62,581.43 241.86,573.92 242.14,578.27 242.52,578.71 242.97,579.04 243.36,539.38 243.74,576.43 244.37,525.00 244.77,587.15 245.44,564.15 245.77,585.33 246.11,574.59 246.40,586.99 247.09,540.97 247.37,578.18 247.97,565.30 248.23,581.13 248.64,532.83 249.14,578.82 249.66,580.82 250.20,572.04 250.74,573.01 251.10,587.80 251.37,579.42 251.81,572.93 252.14,567.94 252.66,575.94 252.90,535.13 253.40,582.24 253.74,554.88 254.40,581.68 254.81,563.84 255.12,580.45 255.77,563.98 256.38,583.15 257.01,548.61 257.35,578.22 257.89,563.16 258.40,583.58 258.88,573.86 259.48,581.17 260.16,562.86 260.49,580.40 260.78,552.57 261.03,576.97 261.41,549.59 261.69,575.62 262.25,577.82 262.54,581.24 263.07,577.08 263.30,580.01 263.91,579.50 264.57,578.84 264.87,580.37 265.27,579.42 265.58,580.55 266.05,583.43 266.48,570.00 267.03,577.60 267.37,579.08 267.99,587.09 268.28,580.68 268.89,578.26 269.54,560.45 269.93,580.25 270.49,577.91 271.09,580.66 271.34,574.43 271.83,585.36 272.48,537.78 272.94,571.72 273.49,565.60 273.79,570.85 274.44,569.94 274.85,586.67 275.37,543.88 275.78,582.80 276.29,548.79 276.60,582.92 277.12,580.88 277.73,582.32 278.34,569.81 278.65,587.65 278.93,577.12 279.51,573.71 280.03,575.69 280.56,574.81 280.96,580.57 281.41,584.00 281.72,572.62 281.99,571.84 282.35,540.21 282.92,587.81 283.56,547.54 284.03,572.08 284.48,580.95 284.78,582.41 285.41,545.84 285.69,581.67 285.97,577.95 286.36,580.47 286.66,558.15 287.00,571.76 287.45,570.76 288.04,581.67 288.38,580.05 288.75,583.67 289.32,573.77 289.87,582.88 290.14,575.55 290.55,571.01 290.87,578.26 291.17,583.25 291.84,534.88 292.18,587.06 292.63,561.87 292.91,580.08 293.50,581.00 294.06,574.93 294.65,567.28 295.09,578.05 295.38,565.78 295.72,581.85 295.97,579.38 296.23,577.65 296.57,563.42 297.03,583.55 297.32,560.97 297.86,574.86 298.32,562.05 298.56,582.18 299.16,572.66 299.44,580.03 300.05,580.36 300.34,578.59 300.97,572.16 301.31,573.55 301.58,575.81 302.09,572.05 302.72,574.77 303.07,581.20 303.35,576.57 303.94,569.73 304.29,580.64 304.86,570.02 305.46,571.27 306.03,573.71 306.60,567.19 307.29,573.16 307.63,570.19 307.90,580.84 308.51,567.25 308.98,572.95 309.25,573.43 309.70,578.40 310.24,532.27 310.84,577.28 311.39,563.78 312.07,576.15 312.57,571.28 313.00,572.69 313.40,533.93 313.96,568.69 314.52,561.17 314.92,587.63 315.45,547.40 316.01,572.60 316.26,553.03 316.62,580.14 317.25,570.74 317.69,586.98 318.01,578.06 318.34,577.53 318.59,580.43 318.86,573.34 319.53,548.37 320.00,585.41 320.59,579.85 320.86,577.89 321.48,574.96 322.11,581.48 322.79,549.97 323.41,568.82 324.02,578.52 324.49,577.45 325.05,577.68 325.54,582.53 325.86,569.16" fill="none" stroke="#111" stroke-width="0.8" stroke-linejoin="round" />
</g>
<line x1="190.40" y1="489.80" x2="190.40" y2="593.00" stroke="#111" stroke-width="1.5" />
<line x1="54.70" y1="489.80" x2="54.70" y2="593.00" stroke="#666" stroke-width="1.4" />
<line x1="54.70" y1="592.60" x2="326.00" y2="592.60" stroke="#666" stroke-width="1.6" />
<line x1="51.70" y1="591.30" x2="54.70" y2="591.30" stroke="#444" stroke-width="0.9" />
<text x="51.30" y="595.30" font-size="11.5" text-anchor="end" fill="#111" >0.0</text>
<line x1="51.70" y1="551.00" x2="54.70" y2="551.00" stroke="#444" stroke-width="0.9" />
<text x="51.30" y="555.00" font-size="11.5" text-anchor="end" fill="#111" >0.2</text>
<line x1="51.70" y1="510.70" x2="54.70" y2="510.70" stroke="#444" stroke-width="0.9" />
<text x="51.30" y="514.70" font-size="11.5" text-anchor="end" fill="#111" >0.4</text>
<line x1="52.90" y1="571.15" x2="54.70" y2="571.15" stroke="#444" stroke-width="0.8" />
<line x1="52.90" y1="530.85" x2="54.70" y2="530.85" stroke="#444" stroke-width="0.8" />
<line x1="324.20" y1="571.15" x2="326.00" y2="571.15" stroke="#444" stroke-width="0.7" />
<line x1="324.20" y1="551.00" x2="326.00" y2="551.00" stroke="#444" stroke-width="0.7" />
<line x1="324.20" y1="530.85" x2="326.00" y2="530.85" stroke="#444" stroke-width="0.7" />
<line x1="324.20" y1="510.70" x2="326.00" y2="510.70" stroke="#444" stroke-width="0.7" />
<text x="54.70" y="606.60" font-size="11.6" text-anchor="middle" fill="#111" >0.0</text>
<text x="108.80" y="606.60" font-size="11.6" text-anchor="middle" fill="#111" >0.2</text>
<text x="163.80" y="606.60" font-size="11.6" text-anchor="middle" fill="#111" >0.4</text>
<text x="194.00" y="606.60" font-size="11.6" text-anchor="middle" fill="#111" >0.0</text>
<text x="245.20" y="606.60" font-size="11.6" text-anchor="middle" fill="#111" >0.2</text>
<text x="299.20" y="606.60" font-size="11.6" text-anchor="middle" fill="#111" >0.4</text>
<line x1="54.70" y1="592.60" x2="54.70" y2="595.20" stroke="#444" stroke-width="0.8" />
<line x1="81.70" y1="592.60" x2="81.70" y2="595.20" stroke="#444" stroke-width="0.8" />
<line x1="108.80" y1="592.60" x2="108.80" y2="595.20" stroke="#444" stroke-width="0.8" />
<line x1="136.30" y1="592.60" x2="136.30" y2="595.20" stroke="#444" stroke-width="0.8" />
<line x1="163.80" y1="592.60" x2="163.80" y2="595.20" stroke="#444" stroke-width="0.8" />
<line x1="190.40" y1="592.60" x2="190.40" y2="595.20" stroke="#444" stroke-width="0.8" />
<line x1="217.60" y1="592.60" x2="217.60" y2="595.20" stroke="#444" stroke-width="0.8" />
<line x1="245.20" y1="592.60" x2="245.20" y2="595.20" stroke="#444" stroke-width="0.8" />
<line x1="272.20" y1="592.60" x2="272.20" y2="595.20" stroke="#444" stroke-width="0.8" />
<line x1="299.20" y1="592.60" x2="299.20" y2="595.20" stroke="#444" stroke-width="0.8" />
<text x="189.30" y="502.60" font-size="12.2" text-anchor="end" fill="#000" >30 Hz</text>
<text x="325.30" y="502.60" font-size="12.6" text-anchor="end" fill="#000" >380 Hz</text>
<text x="97.30" y="521.80" font-size="10.8" text-anchor="start" fill="#6a6ad8" >ε = 0 %</text>
<text x="257.70" y="521.50" font-size="10.8" text-anchor="start" fill="#6a6ad8" >ε = 2.61%</text>
<text x="31.00" y="541.70" font-size="11.9" text-anchor="middle" font-weight="bold" fill="#000" transform="rotate(-90 31.00 541.70)">Output Voltage (V)</text>
<text x="193.90" y="630.30" font-size="14.4" text-anchor="middle" font-weight="bold" fill="#000" >Time (s)</text>
<text x="5.40" y="479.50" font-size="22.0" text-anchor="start" font-weight="bold" fill="#000" >e</text>
</g>
<g id="panel-f">
<line x1="412.80" y1="489.00" x2="686.00" y2="489.00" stroke="#777" stroke-width="1.4" />
<line x1="412.80" y1="591.00" x2="549.10" y2="591.00" stroke="#b8b8b8" stroke-width="1" />
<polyline points="417.60,591.00 418.10,499.00 418.40,540.40 418.90,589.00 419.90,591.00" fill="none" stroke="#acacac" stroke-width="0.75" stroke-linejoin="round" />
<polyline points="432.90,591.00 433.40,549.20 433.70,568.01 434.20,589.00 435.20,591.00" fill="none" stroke="#c6c6c6" stroke-width="0.75" stroke-linejoin="round" />
<polyline points="445.10,591.00 445.60,532.10 445.90,558.61 446.40,589.00 447.40,591.00" fill="none" stroke="#acacac" stroke-width="0.75" stroke-linejoin="round" />
<polyline points="448.10,591.00 448.60,568.40 448.90,578.57 449.40,589.00 450.40,591.00" fill="none" stroke="#c6c6c6" stroke-width="0.75" stroke-linejoin="round" />
<polyline points="470.70,591.00 471.20,537.90 471.50,561.79 472.00,589.00 473.00,591.00" fill="none" stroke="#acacac" stroke-width="0.75" stroke-linejoin="round" />
<polyline points="470.30,591.00 470.80,537.80 471.10,561.74 471.60,589.00 472.60,591.00" fill="none" stroke="#acacac" stroke-width="0.75" stroke-linejoin="round" />
<polyline points="479.90,591.00 480.40,568.30 480.70,578.51 481.20,589.00 482.20,591.00" fill="none" stroke="#c6c6c6" stroke-width="0.75" stroke-linejoin="round" />
<polyline points="489.20,591.00 489.70,558.70 490.00,573.24 490.50,589.00 491.50,591.00" fill="none" stroke="#c6c6c6" stroke-width="0.75" stroke-linejoin="round" />
<polyline points="500.50,591.00 501.00,560.30 501.30,574.12 501.80,589.00 502.80,591.00" fill="none" stroke="#c6c6c6" stroke-width="0.75" stroke-linejoin="round" />
<polyline points="501.50,591.00 502.00,565.00 502.30,576.70 502.80,589.00 503.80,591.00" fill="none" stroke="#c6c6c6" stroke-width="0.75" stroke-linejoin="round" />
<polyline points="506.20,591.00 506.70,554.80 507.00,571.09 507.50,589.00 508.50,591.00" fill="none" stroke="#c6c6c6" stroke-width="0.75" stroke-linejoin="round" />
<polyline points="521.30,591.00 521.80,510.50 522.10,546.73 522.60,589.00 523.60,591.00" fill="none" stroke="#acacac" stroke-width="0.75" stroke-linejoin="round" />
<polyline points="523.90,591.00 524.40,536.20 524.70,560.86 525.20,589.00 526.20,591.00" fill="none" stroke="#acacac" stroke-width="0.75" stroke-linejoin="round" />
<polyline points="534.50,591.00 535.00,532.30 535.30,558.71 535.80,589.00 536.80,591.00" fill="none" stroke="#acacac" stroke-width="0.75" stroke-linejoin="round" />
<polyline points="537.70,591.00 538.20,568.30 538.50,578.51 539.00,589.00 540.00,591.00" fill="none" stroke="#c6c6c6" stroke-width="0.75" stroke-linejoin="round" />
<clipPath id="cpf"><rect x="549.3" y="489.6" width="140" height="102.4"/></clipPath>
<g clip-path="url(#cpf)">
<polyline points="549.50,580.99 549.87,580.15 550.58,579.67 550.95,583.37 551.70,579.51 552.44,574.77 552.83,563.71 553.39,579.76 554.29,580.38 554.60,569.22 555.15,578.38 555.64,580.71 556.52,578.07 556.95,576.31 557.58,529.27 558.38,580.90 558.80,540.69 559.70,587.39 560.44,537.29 561.13,583.54 561.90,548.57 562.32,574.63 562.75,580.86 563.25,580.91 563.79,554.18 564.59,567.12 565.48,518.28 566.25,581.16 566.66,554.49 567.29,572.67 567.64,578.10 568.50,574.05 569.21,580.21 569.75,566.46 570.44,513.44 570.86,577.34 571.64,566.60 572.41,575.17 572.78,580.19 573.67,585.33 574.09,572.97 574.82,569.26 575.40,564.40 576.18,582.04 576.70,557.04 577.38,587.20 577.75,579.62 578.48,573.76 579.37,546.28 579.82,572.65 580.71,573.29 581.02,580.42 581.49,578.87 581.82,585.46 582.63,580.80 583.30,583.73 583.72,540.34 584.20,584.17 584.77,551.00 585.39,569.86 585.93,563.22 586.66,578.14 587.39,566.48 587.77,585.33 588.54,545.28 589.40,572.86 590.05,578.90 590.86,585.36 591.42,579.45 591.95,581.10 592.50,546.86 593.13,582.50 593.89,544.74 594.69,587.26 595.36,528.97 595.81,583.52 596.60,571.71 597.14,570.07 597.67,578.09 598.10,580.48 598.82,571.69 599.58,586.58 600.03,555.88 600.62,577.35 601.48,575.71 601.89,587.29 602.48,575.03 603.06,587.88 603.36,571.57 604.12,581.79 604.97,560.29 605.51,572.07 605.95,558.57 606.76,576.95 607.25,580.32 607.89,584.18 608.42,562.92 609.28,574.34 609.89,537.97 610.38,580.16 611.08,562.33 611.52,579.72 612.31,577.14 613.04,587.03 613.91,553.39 614.40,568.32 615.18,580.71 615.63,578.04 616.53,579.58 616.86,581.50 617.18,570.06 617.81,578.65 618.19,580.95 618.97,578.44 619.56,565.42 620.27,567.90 621.07,545.22 621.57,584.14 621.93,530.95 622.26,574.80 623.11,573.03 623.64,578.05 624.51,546.67 625.31,587.05 626.05,564.97 626.59,567.77 627.33,520.48 628.07,565.60 628.63,557.44 629.40,576.90 629.78,555.17 630.61,566.81 630.98,569.64 631.42,579.73 632.29,567.36 632.78,581.43 633.35,548.25 633.85,583.53 634.29,575.60 635.13,583.96 635.88,579.99 636.65,581.75 637.42,567.34 637.77,585.82 638.55,560.46 639.14,580.08 639.86,564.99 640.19,574.74 640.68,535.17 641.31,571.28 641.68,549.15 642.35,569.97 643.18,561.79 643.83,572.21 644.29,562.70 645.07,576.06 645.69,539.25 646.58,582.96 646.92,559.48 647.31,569.40 647.89,564.86 648.69,571.51 649.07,569.14 649.48,579.24 649.86,539.26 650.37,580.56 651.21,543.70 651.71,578.38 652.41,578.73 652.79,571.42 653.19,552.71 653.93,576.50 654.44,539.96 655.21,586.61 656.05,557.50 656.52,584.68 656.88,543.58 657.69,581.12 658.10,580.61 658.65,582.09 658.98,575.37 659.77,586.70 660.31,565.02 660.71,587.27 661.06,579.58 661.94,570.86 662.66,535.04 663.16,583.05 663.98,559.36 664.83,580.90 665.38,551.28 666.21,584.74 666.67,580.98 667.31,569.85 667.95,579.52 668.66,575.27 669.02,534.41 669.72,578.41 670.23,579.30 670.81,580.87 671.25,557.03 671.94,569.44 672.82,568.18 673.55,580.73 674.11,562.45 675.00,587.19 675.58,574.14 676.36,569.68 676.95,580.56 677.60,576.71 678.31,547.61 678.89,577.47 679.65,580.94 680.09,574.85 680.98,532.99 681.45,569.46 681.92,569.12 682.31,576.52 682.85,554.97 683.72,585.57 684.42,560.74 684.88,587.33 685.74,554.42" fill="none" stroke="#666" stroke-width="0.65" stroke-linejoin="round" />
<polyline points="549.50,580.50 549.83,581.27 550.47,564.10 551.03,585.77 551.50,534.73 551.97,567.03 552.60,571.27 552.83,571.23 553.12,580.99 553.69,569.29 554.30,522.54 554.63,586.19 554.91,519.68 555.19,584.46 555.43,580.79 555.68,580.16 555.99,574.10 556.64,584.28 557.25,545.03 557.74,575.22 558.32,557.73 558.66,580.69 559.00,569.74 559.68,578.53 559.95,565.34 560.55,578.01 561.10,580.31 561.36,572.93 561.61,574.19 562.02,583.54 562.27,580.99 562.94,571.86 563.60,563.08 564.27,567.30 564.79,560.20 565.25,582.50 565.65,542.18 565.97,567.00 566.44,552.97 567.05,571.74 567.34,575.76 567.57,587.30 568.24,553.01 568.91,567.75 569.29,508.73 569.94,575.96 570.21,572.17 570.52,578.43 570.79,540.54 571.47,582.57 572.06,553.93 572.51,565.00 572.91,530.17 573.16,563.79 573.47,581.00 574.11,570.20 574.65,537.92 575.05,585.22 575.43,516.67 576.11,582.52 576.54,565.86 577.19,587.87 577.80,576.06 578.28,585.04 578.55,528.86 579.01,566.02 579.64,543.43 579.90,574.89 580.59,563.53 580.85,583.86 581.53,518.66 581.88,580.79 582.44,562.83 582.75,565.52 583.27,571.19 583.51,576.26 584.08,578.48 584.35,571.20 585.01,570.37 585.46,573.07 585.92,579.61 586.28,583.13 586.60,580.32 587.01,582.78 587.63,572.89 588.30,568.44 588.66,578.98 589.15,576.48 589.63,579.66 590.10,569.37 590.54,575.62 591.19,580.66 591.88,544.99 592.11,576.82 592.41,534.42 592.83,585.85 593.50,532.87 594.01,573.81 594.27,510.26 594.64,574.97 595.10,563.54 595.34,565.91 595.79,568.74 596.42,566.91 596.98,521.67 597.37,585.45 597.76,554.03 598.35,570.28 598.87,554.37 599.41,574.25 599.65,558.92 600.00,586.28 600.51,531.36 600.87,572.17 601.39,548.00 602.02,571.72 602.29,553.90 602.68,578.31 603.22,578.59 603.74,566.37 604.00,531.89 604.56,578.75 605.14,580.46 605.45,565.28 605.96,578.79 606.25,577.85 606.73,516.61 607.05,573.58 607.48,559.44 608.14,585.32 608.76,544.98 609.11,585.29 609.69,532.87 610.07,584.89 610.56,550.63 610.95,578.78 611.23,579.43 611.56,571.02 611.85,578.02 612.29,583.30 612.63,544.92 612.97,575.47 613.24,562.58 613.79,578.03 614.11,580.92 614.46,578.92 614.74,568.32 615.21,586.57 615.74,521.16 616.29,577.73 616.91,520.73 617.57,565.67 618.16,519.11 618.74,580.19 619.03,563.01 619.58,581.42 619.98,580.37 620.23,581.58 620.85,580.65 621.15,577.93 621.82,576.85 622.07,586.75 622.46,581.00 623.00,586.38 623.32,580.41 623.67,585.66 623.97,577.51 624.31,571.01 624.71,576.98 624.95,564.56 625.57,507.53 626.13,576.07 626.51,577.34 626.94,576.50 627.60,577.17 628.15,568.02 628.69,549.03 628.94,584.00 629.40,550.11 630.08,566.70 630.41,578.87 630.99,587.71 631.64,580.23 632.15,565.28 632.42,579.96 632.94,568.73 633.17,562.27 633.77,567.31 634.18,580.99 634.69,573.75 635.12,551.68 635.61,575.27 636.10,554.99 636.68,567.36 636.92,532.71 637.26,577.10 637.59,572.92 638.01,576.43 638.29,573.71 638.73,578.28 639.20,580.54 639.69,565.60 640.26,557.42 640.86,578.80 641.17,553.33 641.51,581.46 642.09,561.89 642.41,582.90 642.97,551.19 643.62,571.02 643.98,547.24 644.61,568.14 645.26,579.37 645.61,584.18 646.21,549.76 646.70,583.76 647.12,550.66 647.36,569.04 647.92,532.38 648.58,577.15 648.95,571.42 649.41,575.21 649.76,575.29 650.23,572.31 650.47,531.05 650.99,577.32 651.48,538.83 651.91,581.04 652.18,573.35 652.44,582.53 652.96,572.25 653.61,577.88 654.22,577.87 654.90,569.51 655.55,539.55 656.02,584.63 656.64,523.21 657.08,571.23 657.60,542.52 658.24,573.68 658.54,567.76 659.02,583.01 659.57,573.35 659.84,580.04 660.41,553.98 660.79,578.71 661.34,534.16 661.62,583.65 662.04,577.47 662.35,581.32 662.65,580.88 663.07,578.36 663.59,525.62 664.25,577.52 664.61,555.66 665.04,575.02 665.70,543.63 666.38,570.24 666.96,518.74 667.53,571.68 668.07,522.01 668.55,579.49 669.06,578.31 669.65,576.65 670.05,551.33 670.60,574.74 670.98,563.11 671.21,579.16 671.45,557.82 671.72,582.98 672.31,548.97 672.64,587.37 673.31,568.52 673.57,576.70 674.17,558.07 674.54,576.94 674.94,525.65 675.53,583.54 676.04,540.18 676.37,584.96 676.86,554.84 677.28,576.44 677.79,550.16 678.06,580.77 678.36,577.49 679.01,574.75 679.63,570.12 679.95,586.20 680.54,535.24 681.11,583.31 681.69,532.32 682.06,577.51 682.74,578.14 683.27,571.60 683.76,529.96 684.22,584.59 684.62,574.31 685.08,580.10 685.70,556.37" fill="none" stroke="#111" stroke-width="0.8" stroke-linejoin="round" />
<polyline points="557.10,591.00 557.70,489.00 558.30,591.00" fill="none" stroke="#222" stroke-width="1.0" stroke-linejoin="round" />
<polyline points="586.30,591.00 586.90,489.00 587.50,591.00" fill="none" stroke="#222" stroke-width="1.0" stroke-linejoin="round" />
<polyline points="597.50,591.00 598.10,489.00 598.70,591.00" fill="none" stroke="#222" stroke-width="1.0" stroke-linejoin="round" />
<polyline points="628.80,591.00 629.40,489.00 630.00,591.00" fill="none" stroke="#222" stroke-width="1.0" stroke-linejoin="round" />
</g>
<line x1="549.30" y1="489.00" x2="549.30" y2="592.60" stroke="#777" stroke-width="1.2" />
<line x1="412.80" y1="489.00" x2="412.80" y2="592.60" stroke="#666" stroke-width="1.4" />
<line x1="412.80" y1="592.40" x2="686.00" y2="592.40" stroke="#666" stroke-width="1.6" />
<line x1="409.80" y1="591.30" x2="412.80" y2="591.30" stroke="#444" stroke-width="0.9" />
<text x="409.20" y="595.30" font-size="11.2" text-anchor="end" fill="#111" >0.0</text>
<line x1="409.80" y1="551.10" x2="412.80" y2="551.10" stroke="#444" stroke-width="0.9" />
<text x="409.20" y="555.10" font-size="11.2" text-anchor="end" fill="#111" >0.2</text>
<line x1="409.80" y1="510.90" x2="412.80" y2="510.90" stroke="#444" stroke-width="0.9" />
<text x="409.20" y="514.90" font-size="11.2" text-anchor="end" fill="#111" >0.4</text>
<line x1="411.00" y1="571.20" x2="412.80" y2="571.20" stroke="#444" stroke-width="0.8" />
<line x1="411.00" y1="531.00" x2="412.80" y2="531.00" stroke="#444" stroke-width="0.8" />
<text x="412.80" y="606.60" font-size="11.6" text-anchor="middle" fill="#111" >0.0</text>
<text x="467.40" y="606.60" font-size="11.6" text-anchor="middle" fill="#111" >0.2</text>
<text x="522.20" y="606.60" font-size="11.6" text-anchor="middle" fill="#111" >0.4</text>
<text x="549.10" y="606.60" font-size="11.6" text-anchor="middle" fill="#111" >0.0</text>
<text x="603.30" y="606.60" font-size="11.6" text-anchor="middle" fill="#111" >0.2</text>
<text x="657.70" y="606.60" font-size="11.6" text-anchor="middle" fill="#111" >0.4</text>
<line x1="412.80" y1="592.40" x2="412.80" y2="595.00" stroke="#444" stroke-width="0.8" />
<line x1="440.10" y1="592.40" x2="440.10" y2="595.00" stroke="#444" stroke-width="0.8" />
<line x1="467.40" y1="592.40" x2="467.40" y2="595.00" stroke="#444" stroke-width="0.8" />
<line x1="494.80" y1="592.40" x2="494.80" y2="595.00" stroke="#444" stroke-width="0.8" />
<line x1="522.20" y1="592.40" x2="522.20" y2="595.00" stroke="#444" stroke-width="0.8" />
<line x1="549.10" y1="592.40" x2="549.10" y2="595.00" stroke="#444" stroke-width="0.8" />
<line x1="576.20" y1="592.40" x2="576.20" y2="595.00" stroke="#444" stroke-width="0.8" />
<line x1="603.30" y1="592.40" x2="603.30" y2="595.00" stroke="#444" stroke-width="0.8" />
<line x1="630.50" y1="592.40" x2="630.50" y2="595.00" stroke="#444" stroke-width="0.8" />
<line x1="657.70" y1="592.40" x2="657.70" y2="595.00" stroke="#444" stroke-width="0.8" />
<text x="547.90" y="502.50" font-size="12.3" text-anchor="end" fill="#000" >32 Hz</text>
<text x="685.50" y="502.20" font-size="12.6" text-anchor="end" fill="#000" >380 Hz</text>
<text x="550.50" y="484.30" font-size="13.8" text-anchor="middle" fill="#000" >After bending 400 cycles</text>
<text x="390.60" y="541.60" font-size="12.1" text-anchor="middle" font-weight="bold" fill="#000" transform="rotate(-90 390.60 541.60)">Output Voltage (V)</text>
<text x="550.00" y="630.30" font-size="14.6" text-anchor="middle" font-weight="bold" fill="#000" >Time (s)</text>
<text x="367.40" y="479.30" font-size="22.5" text-anchor="start" font-weight="bold" fill="#000" >f</text>
</g>
<g id="panel-g">
<text x="6.60" y="653.30" font-size="22.6" text-anchor="start" font-weight="bold" fill="#000" >g</text>
<rect x="20.30" y="664.60" width="262.50" height="52.60" fill="#fff" stroke="#999" stroke-width="0.9" />
<rect x="27.60" y="667.20" width="8.40" height="8.40" fill="#eab2f2" stroke="none" stroke-width="1" />
<text x="44.6" y="674.5" font-size="8.95">Au/VO<tspan font-size="6" dy="2">2</tspan><tspan dy="-2">/Au</tspan></text>
<circle cx="99.4" cy="671.4" r="4.6" fill="#9010c0"/>
<text x="112.10" y="674.50" font-size="8.95" text-anchor="start" fill="#000" >Ag/protein nanowire/Pt</text>
<polygon points="214.90,666.40 220.22,675.64 209.58,675.64" fill="#7a10d8"/>
<text x="227.6" y="674.5" font-size="8.95">Pt/V<tspan font-size="6" dy="2">3</tspan><tspan dy="-2">O</tspan><tspan font-size="6" dy="2">5</tspan><tspan dy="-2">/Pt</tspan></text>
<polygon points="31.80,689.30 37.12,680.06 26.48,680.06" fill="#000"/>
<text x="44.6" y="687.4" font-size="8.95">Ag/TaO<tspan font-size="6" dy="2">x</tspan><tspan dy="-2">/ITO</tspan></text>
<polygon points="108,679.0999999999999 113.2,684.3 108,689.5 102.8,684.3" fill="#8c9cf6"/>
<text x="120.70" y="687.40" font-size="8.95" text-anchor="start" fill="#000" >Organic electrochmical transistor</text>
<polygon points="26.60,697.10 35.84,691.78 35.84,702.42" fill="#8c9cf6"/>
<text x="44.6" y="700.2" font-size="8.95">Au/Cr<tspan font-size="6" dy="2">2</tspan><tspan dy="-2">O</tspan><tspan font-size="6" dy="2">3</tspan><tspan dy="-2">/VO</tspan><tspan font-size="6" dy="2">2</tspan><tspan dy="-2">/Au</tspan></text>
<polygon points="132.20,697.10 122.96,691.78 122.96,702.42" fill="#e040f0"/>
<text x="137.6" y="700.2" font-size="8.95">Pt/Ta/TaO<tspan font-size="6" dy="2">x</tspan><tspan dy="-2">/Pt</tspan></text>
<polygon points="210.40,697.10 208.10,701.08 203.50,701.08 201.20,697.10 203.50,693.12 208.10,693.12" fill="#0818b0"/>
<text x="218" y="700.2" font-size="8.95">NbO<tspan font-size="6" dy="2">x</tspan><tspan dy="-2"> memristor</tspan></text>
<polygon points="31.80,705.20 36.56,708.65 34.74,714.25 28.86,714.25 27.04,708.65" fill="#0818b0"/>
<text x="44.6" y="712.9" font-size="8.95">NbO<tspan font-size="6" dy="2">x</tspan><tspan dy="-2">mott</tspan></text>
<polygon points="95.30,704.40 96.63,707.97 100.44,708.13 97.46,710.50 98.47,714.17 95.30,712.07 92.13,714.17 93.14,710.50 90.16,708.13 93.97,707.97" fill="#f01010"/>
<text x="108.60" y="712.90" font-size="8.95" text-anchor="start" fill="#000" >This work</text>
<line x1="80.80" y1="728.40" x2="281.30" y2="728.40" stroke="#333" stroke-width="1" />
<line x1="281.30" y1="728.40" x2="281.30" y2="881.50" stroke="#333" stroke-width="1" />
<line x1="80.80" y1="728.40" x2="80.80" y2="881.50" stroke="#333" stroke-width="1" />
<line x1="80.80" y1="881.50" x2="281.30" y2="881.50" stroke="#333" stroke-width="1" />
<line x1="78.30" y1="728.40" x2="80.80" y2="728.40" stroke="#333" stroke-width="0.9" />
<text x="78.60" y="731.40" font-size="8.6" text-anchor="end" fill="#222">10<tspan font-size="6.0" dy="-3.6">-6</tspan></text>
<line x1="78.30" y1="763.95" x2="80.80" y2="763.95" stroke="#333" stroke-width="0.9" />
<text x="78.60" y="766.95" font-size="8.6" text-anchor="end" fill="#222">10<tspan font-size="6.0" dy="-3.6">-7</tspan></text>
<line x1="78.30" y1="799.50" x2="80.80" y2="799.50" stroke="#333" stroke-width="0.9" />
<text x="78.60" y="802.50" font-size="8.6" text-anchor="end" fill="#222">10<tspan font-size="6.0" dy="-3.6">-8</tspan></text>
<line x1="78.30" y1="835.05" x2="80.80" y2="835.05" stroke="#333" stroke-width="0.9" />
<text x="78.60" y="838.05" font-size="8.6" text-anchor="end" fill="#222">10<tspan font-size="6.0" dy="-3.6">-9</tspan></text>
<line x1="78.30" y1="870.60" x2="80.80" y2="870.60" stroke="#333" stroke-width="0.9" />
<text x="78.60" y="873.60" font-size="8.6" text-anchor="end" fill="#222">10<tspan font-size="6.0" dy="-3.6">-10</tspan></text>
<line x1="79.50" y1="881.30" x2="80.80" y2="881.30" stroke="#555" stroke-width="0.5" />
<line x1="79.50" y1="878.49" x2="80.80" y2="878.49" stroke="#555" stroke-width="0.5" />
<line x1="79.50" y1="876.11" x2="80.80" y2="876.11" stroke="#555" stroke-width="0.5" />
<line x1="79.50" y1="874.05" x2="80.80" y2="874.05" stroke="#555" stroke-width="0.5" />
<line x1="79.50" y1="872.23" x2="80.80" y2="872.23" stroke="#555" stroke-width="0.5" />
<line x1="79.50" y1="859.90" x2="80.80" y2="859.90" stroke="#555" stroke-width="0.5" />
<line x1="79.50" y1="853.64" x2="80.80" y2="853.64" stroke="#555" stroke-width="0.5" />
<line x1="79.50" y1="849.20" x2="80.80" y2="849.20" stroke="#555" stroke-width="0.5" />
<line x1="79.50" y1="845.75" x2="80.80" y2="845.75" stroke="#555" stroke-width="0.5" />
<line x1="79.50" y1="842.94" x2="80.80" y2="842.94" stroke="#555" stroke-width="0.5" />
<line x1="79.50" y1="840.56" x2="80.80" y2="840.56" stroke="#555" stroke-width="0.5" />
<line x1="79.50" y1="838.50" x2="80.80" y2="838.50" stroke="#555" stroke-width="0.5" />
<line x1="79.50" y1="836.68" x2="80.80" y2="836.68" stroke="#555" stroke-width="0.5" />
<line x1="79.50" y1="824.35" x2="80.80" y2="824.35" stroke="#555" stroke-width="0.5" />
<line x1="79.50" y1="818.09" x2="80.80" y2="818.09" stroke="#555" stroke-width="0.5" />
<line x1="79.50" y1="813.65" x2="80.80" y2="813.65" stroke="#555" stroke-width="0.5" />
<line x1="79.50" y1="810.20" x2="80.80" y2="810.20" stroke="#555" stroke-width="0.5" />
<line x1="79.50" y1="807.39" x2="80.80" y2="807.39" stroke="#555" stroke-width="0.5" />
<line x1="79.50" y1="805.01" x2="80.80" y2="805.01" stroke="#555" stroke-width="0.5" />
<line x1="79.50" y1="802.95" x2="80.80" y2="802.95" stroke="#555" stroke-width="0.5" />
<line x1="79.50" y1="801.13" x2="80.80" y2="801.13" stroke="#555" stroke-width="0.5" />
<line x1="79.50" y1="788.80" x2="80.80" y2="788.80" stroke="#555" stroke-width="0.5" />
<line x1="79.50" y1="782.54" x2="80.80" y2="782.54" stroke="#555" stroke-width="0.5" />
<line x1="79.50" y1="778.10" x2="80.80" y2="778.10" stroke="#555" stroke-width="0.5" />
<line x1="79.50" y1="774.65" x2="80.80" y2="774.65" stroke="#555" stroke-width="0.5" />
<line x1="79.50" y1="771.84" x2="80.80" y2="771.84" stroke="#555" stroke-width="0.5" />
<line x1="79.50" y1="769.46" x2="80.80" y2="769.46" stroke="#555" stroke-width="0.5" />
<line x1="79.50" y1="767.40" x2="80.80" y2="767.40" stroke="#555" stroke-width="0.5" />
<line x1="79.50" y1="765.58" x2="80.80" y2="765.58" stroke="#555" stroke-width="0.5" />
<line x1="79.50" y1="753.25" x2="80.80" y2="753.25" stroke="#555" stroke-width="0.5" />
<line x1="79.50" y1="746.99" x2="80.80" y2="746.99" stroke="#555" stroke-width="0.5" />
<line x1="79.50" y1="742.55" x2="80.80" y2="742.55" stroke="#555" stroke-width="0.5" />
<line x1="79.50" y1="739.10" x2="80.80" y2="739.10" stroke="#555" stroke-width="0.5" />
<line x1="79.50" y1="736.29" x2="80.80" y2="736.29" stroke="#555" stroke-width="0.5" />
<line x1="79.50" y1="733.91" x2="80.80" y2="733.91" stroke="#555" stroke-width="0.5" />
<line x1="79.50" y1="731.85" x2="80.80" y2="731.85" stroke="#555" stroke-width="0.5" />
<line x1="79.50" y1="730.03" x2="80.80" y2="730.03" stroke="#555" stroke-width="0.5" />
<line x1="101.30" y1="881.50" x2="101.30" y2="884.00" stroke="#333" stroke-width="0.9" />
<text x="101.30" y="892.60" font-size="8.4" text-anchor="middle" fill="#222" >1R</text>
<line x1="141.60" y1="881.50" x2="141.60" y2="884.00" stroke="#333" stroke-width="0.9" />
<text x="141.60" y="892.60" font-size="8.4" text-anchor="middle" fill="#222" >1S1C</text>
<line x1="181.40" y1="881.50" x2="181.40" y2="884.00" stroke="#333" stroke-width="0.9" />
<text x="181.40" y="892.60" font-size="8.4" text-anchor="middle" fill="#222" >2*R1C</text>
<line x1="221.30" y1="881.50" x2="221.30" y2="884.00" stroke="#333" stroke-width="0.9" />
<text x="221.30" y="892.60" font-size="8.4" text-anchor="middle" fill="#222" >1S1R1C</text>
<line x1="261.50" y1="881.50" x2="261.50" y2="884.00" stroke="#333" stroke-width="0.9" />
<text x="261.50" y="892.60" font-size="8.4" text-anchor="middle" fill="#222" >1S2*R1C</text>
<line x1="121.45" y1="881.50" x2="121.45" y2="883.00" stroke="#333" stroke-width="0.7" />
<line x1="161.50" y1="881.50" x2="161.50" y2="883.00" stroke="#333" stroke-width="0.7" />
<line x1="201.35" y1="881.50" x2="201.35" y2="883.00" stroke="#333" stroke-width="0.7" />
<line x1="241.40" y1="881.50" x2="241.40" y2="883.00" stroke="#333" stroke-width="0.7" />
<polygon points="181.4,734.1 187.0,739.7 181.4,745.3000000000001 175.8,739.7" fill="#8c9cf6"/>
<text x="172.80" y="743.30" font-size="10.2" text-anchor="end" fill="#111" >ref.[52]</text>
<polygon points="181.40,748.00 187.10,757.90 175.70,757.90" fill="#7a10d8"/>
<text x="172.80" y="758.80" font-size="10.2" text-anchor="end" fill="#111" >ref.[50]</text>
<circle cx="221.3" cy="794.4" r="5.0" fill="#9010c0"/>
<text x="214.40" y="798.00" font-size="10.2" text-anchor="end" fill="#111" >ref.[49]</text>
<rect x="257.50" y="821.00" width="8.00" height="8.00" fill="#eab2f2" stroke="none" stroke-width="1" />
<polygon points="255.50,813.00 265.40,807.30 265.40,818.70" fill="#8c9cf6"/>
<polygon points="261.50,827.20 267.20,817.30 255.80,817.30" fill="#000"/>
<text x="252.10" y="813.40" font-size="10.2" text-anchor="end" fill="#111" >ref.[48]</text>
<text x="252.10" y="824.80" font-size="10.2" text-anchor="end" fill="#111" >ref.[51]</text>
<text x="252.10" y="835.70" font-size="10.2" text-anchor="end" fill="#111" >ref.[18]</text>
<polygon points="221.30,848.20 226.44,851.93 224.47,857.97 218.13,857.97 216.16,851.93" fill="#0818b0"/>
<text x="214.40" y="857.20" font-size="10.2" text-anchor="end" fill="#111" >ref.[46]</text>
<polygon points="268.50,859.50 258.60,853.80 258.60,865.20" fill="#e040f0"/>
<text x="257.10" y="863.10" font-size="10.2" text-anchor="end" fill="#111" >ref.[44]</text>
<polygon points="146.60,853.90 144.10,858.23 139.10,858.23 136.60,853.90 139.10,849.57 144.10,849.57" fill="#0818b0"/>
<text x="135.50" y="857.50" font-size="10.2" text-anchor="end" fill="#111" >ref.[45]</text>
<rect x="147.70" y="863.90" width="62.80" height="12.00" fill="#a6c4f4" stroke="none" stroke-width="1" />
<line x1="108.00" y1="870.60" x2="147.70" y2="870.60" stroke="#8fb0f0" stroke-width="1.3" stroke-dasharray="4,2.5"/>
<circle cx="101.3" cy="870.6" r="6.3" fill="#f2c4e6"/>
<polygon points="101.30,864.80 102.73,868.63 106.82,868.81 103.62,871.35 104.71,875.29 101.30,873.04 97.89,875.29 98.98,871.35 95.78,868.81 99.87,868.63" fill="#f01010"/>
<text x="151.00" y="874.80" font-size="12.0" text-anchor="start" font-weight="bold" fill="#000" >This work</text>
<text x="34.20" y="805.30" font-size="15.3" text-anchor="middle" font-weight="bold" fill="#000" transform="rotate(-90 34.20 805.30)">Energy per spike</text>
<text x="52.60" y="802.70" font-size="15.6" text-anchor="middle" font-weight="bold" fill="#000" transform="rotate(-90 52.60 802.70)">in circuit system (J)</text>
<text x="181.50" y="915.80" font-size="18.3" text-anchor="middle" font-weight="bold" fill="#000" >Circuit components</text>
</g>
<g id="panel-h">
<defs>
<linearGradient id="skinG" x1="0" y1="0" x2="0" y2="1">
 <stop offset="0" stop-color="#f3b86c"/>
 <stop offset="0.22" stop-color="#f6c585"/>
 <stop offset="0.27" stop-color="#fae0c0"/>
 <stop offset="0.42" stop-color="#f9d6ac"/>
 <stop offset="0.47" stop-color="#f3a659"/>
 <stop offset="0.75" stop-color="#f09a48"/>
 <stop offset="1" stop-color="#ee9a50"/>
</linearGradient>
<linearGradient id="skinTop" x1="0" y1="0" x2="0" y2="1">
 <stop offset="0" stop-color="#f0b060"/>
 <stop offset="1" stop-color="#f6c27c"/>
</linearGradient>
<linearGradient id="beamV" gradientUnits="userSpaceOnUse" x1="0" y1="780" x2="0" y2="816">
 <stop offset="0" stop-color="#f4d8f2" stop-opacity="0.35"/>
 <stop offset="0.45" stop-color="#ecb4e8" stop-opacity="0.85"/>
 <stop offset="0.8" stop-color="#dc80d2"/>
 <stop offset="1" stop-color="#c848b8"/>
</linearGradient>
<linearGradient id="beamMG" gradientUnits="userSpaceOnUse" x1="338" y1="0" x2="588" y2="0">
 <stop offset="0" stop-color="#000"/>
 <stop offset="0.25" stop-color="#aaa"/>
 <stop offset="0.46" stop-color="#fff"/>
 <stop offset="0.7" stop-color="#aaa"/>
 <stop offset="1" stop-color="#000"/>
</linearGradient>
<linearGradient id="beamG" x1="0" y1="0" x2="0" y2="1">
 <stop offset="0" stop-color="#f6e2f6" stop-opacity="0.3"/>
 <stop offset="0.6" stop-color="#e8a8e4" stop-opacity="0.8"/>
 <stop offset="1" stop-color="#cc50bc" stop-opacity="1"/>
</linearGradient>
<radialGradient id="beamR" cx="0.5" cy="1" r="1" fx="0.5" fy="1">
 <stop offset="0" stop-color="#c840b8"/>
 <stop offset="0.35" stop-color="#e49ade"/>
 <stop offset="1" stop-color="#fbeefb" stop-opacity="0"/>
</radialGradient>
<linearGradient id="sheetG" gradientUnits="userSpaceOnUse" x1="381" y1="0" x2="580" y2="0">
 <stop offset="0" stop-color="#c08cf2"/>
 <stop offset="0.1" stop-color="#c69af4"/>
 <stop offset="0.2" stop-color="#f0b2f6"/>
 <stop offset="0.6" stop-color="#f4baf8"/>
 <stop offset="0.8" stop-color="#e6aaf8"/>
 <stop offset="1" stop-color="#c494f4"/>
</linearGradient>
<radialGradient id="photoG" cx="0.5" cy="0.5" r="0.5">
 <stop offset="0" stop-color="#dedede"/>
 <stop offset="0.82" stop-color="#d4d4d4"/>
 <stop offset="1" stop-color="#eeeeee" stop-opacity="0"/>
</radialGradient>
<radialGradient id="somaG" cx="0.5" cy="0.5" r="0.5">
 <stop offset="0" stop-color="#f07040"/>
 <stop offset="0.8" stop-color="#f58a58"/>
 <stop offset="1" stop-color="#f07a48"/>
</radialGradient>
<pattern id="dots" width="2.0" height="2.0" patternUnits="userSpaceOnUse">
 <rect width="2.0" height="2.0" fill="#f6d426"/>
 <circle cx="1.0" cy="1.0" r="0.42" fill="#e8b818"/>
</pattern>
</defs>
<text x="289.80" y="653.40" font-size="22.0" text-anchor="start" font-weight="bold" fill="#000" >h</text>
<polygon points="321.5,679 333.2,667.4 333.2,672.6 342.8,672.6 342.8,685.6 333.2,685.6 333.2,690.7" fill="#e6a2e2"/>
<polygon points="438.3,679 426.6,667.4 426.6,672.6 417.0,672.6 417.0,685.6 426.6,685.6 426.6,690.7" fill="#e6a2e2"/>
<polygon points="350.1,666 364.9,657.1 411.9,657.1 411.9,684.9 402.2,700.7 350.1,700.7" fill="#f3a256"/>
<path d="M350.1,666 L364.9,657.1 L411.9,657.1 L411.9,667 C400,668 390,665 380,667 C370,668.5 360,666 350.1,668 Z" fill="#f4b96e"/>
<path d="M356,663 L366,657.5 M372,664 L382,657.5 M390,664 L399,657.5" stroke="#f8cc90" stroke-width="2.2" opacity="0.8"/>
<path d="M350.1,668 C360,666 370,668.5 380,667 C390,665 400,668 411.9,667 L411.9,674 C400,676.5 390,673.5 380,675.5 C370,677 360,674 350.1,676 Z" fill="#fbe2c4"/>
<path d="M350.1,676 C360,674 370,677 380,675.5 C390,673.5 400,676.5 411.9,674 L411.9,677.5 C400,679 390,677 380,678.5 C370,680 360,678 350.1,679 Z" fill="#f7c48e"/>
<path d="M350.1,690 L411.9,690 L411.9,684.9 L402.2,700.7 L350.1,700.7 Z" fill="#f0994c"/>
<polygon points="402.2,668 411.9,667 411.9,684.9 402.2,700.7" fill="#ea8c3e" opacity="0.6"/>
<rect x="352.0" y="693.5" width="2.4" height="1.0" rx="0.5" fill="#e07a34" opacity="0.85"/>
<rect x="355.2" y="697.1" width="2.4" height="1.0" rx="0.5" fill="#e07a34" opacity="0.85"/>
<rect x="358.5" y="693.5" width="2.4" height="1.0" rx="0.5" fill="#e07a34" opacity="0.85"/>
<rect x="361.7" y="697.1" width="2.4" height="1.0" rx="0.5" fill="#e07a34" opacity="0.85"/>
<rect x="365.0" y="693.5" width="2.4" height="1.0" rx="0.5" fill="#e07a34" opacity="0.85"/>
<rect x="368.2" y="697.1" width="2.4" height="1.0" rx="0.5" fill="#e07a34" opacity="0.85"/>
<rect x="371.5" y="693.5" width="2.4" height="1.0" rx="0.5" fill="#e07a34" opacity="0.85"/>
<rect x="374.7" y="697.1" width="2.4" height="1.0" rx="0.5" fill="#e07a34" opacity="0.85"/>
<rect x="378.0" y="693.5" width="2.4" height="1.0" rx="0.5" fill="#e07a34" opacity="0.85"/>
<rect x="381.2" y="697.1" width="2.4" height="1.0" rx="0.5" fill="#e07a34" opacity="0.85"/>
<rect x="384.5" y="693.5" width="2.4" height="1.0" rx="0.5" fill="#e07a34" opacity="0.85"/>
<rect x="387.7" y="697.1" width="2.4" height="1.0" rx="0.5" fill="#e07a34" opacity="0.85"/>
<rect x="391.0" y="693.5" width="2.4" height="1.0" rx="0.5" fill="#e07a34" opacity="0.85"/>
<rect x="394.2" y="697.1" width="2.4" height="1.0" rx="0.5" fill="#e07a34" opacity="0.85"/>
<rect x="397.5" y="693.5" width="2.4" height="1.0" rx="0.5" fill="#e07a34" opacity="0.85"/>
<rect x="400.7" y="697.1" width="2.4" height="1.0" rx="0.5" fill="#e07a34" opacity="0.85"/>
<path d="M350.5,689.5 C356,688 362,690 366,689 M358,689.5 L354,695 M366,689 L370,681 L368,677 M370,681 L373,678" stroke="#e05c2c" stroke-width="0.7" fill="none"/>
<path d="M368.5,691.5 L396.1,691.5 M384,691.5 L385,680 L383,674 M385,680 L388,675 M384,676 L381,673 M393,691.5 L394,682 L396,679" stroke="#5a78c8" stroke-width="0.7" fill="none"/>
<path d="M374.1,695 L374.1,686 L368.5,681.5 M374.1,686 L377.2,681 M385.9,695 L385.9,686 L382.5,681.5 M385.9,686 L389.5,681" stroke="#5cc05c" stroke-width="1.5" fill="none" stroke-linecap="round"/>
<ellipse cx="368" cy="680.8" rx="1.6" ry="1.3" fill="#5cc05c"/>
<ellipse cx="377.6" cy="680.3" rx="1.6" ry="1.3" fill="#5cc05c"/>
<ellipse cx="382" cy="680.8" rx="1.6" ry="1.3" fill="#5cc05c"/>
<ellipse cx="390" cy="680.3" rx="1.6" ry="1.3" fill="#5cc05c"/>
<path d="M356.4,681 C357.5,672 356,660 352.2,650.1 C357.5,659 359.5,671 360.2,681 Z" fill="#3a2c1e"/>
<ellipse cx="358.3" cy="680.5" rx="2.3" ry="2.8" fill="#3a2c1e"/>
<path d="M362.3,674.5 L365,673.5" stroke="#3a2c1e" stroke-width="0.9"/>
<path d="M366.2,662 C366.6,657 366,653 364.9,650.1 C367,653 368.2,657 368,662 Z" fill="#3a2c1e"/>
<path d="M382.8,664.4 C383.5,659 385,655 387.4,652.7 C386.5,656 385.4,660 385,664.4 Z" fill="#3a2c1e"/>
<path d="M401.2,663.4 C402,657 404,652.5 407.3,649.6 C406,653.5 404.5,658 403.4,663.4 Z" fill="#3a2c1e"/>
<text x="416.40" y="662.10" font-size="9.2" text-anchor="start" font-weight="bold" fill="#000" >Strain</text>
<path d="M386,695 C387,700 388.5,704 388,707.7" stroke="#e88080" stroke-width="0.8" fill="none"/>
<path d="M375,695 L388,707.7 L396,710.2 M416,714.7 L424,715.3 M445,715 L452,714 M468,710 C475,711 482,713 489,714.2 M512,714.5 L522,712 M543,707.5 L550.7,704.5 M572.5,702 L582,700.4 M604.4,700.5 C610,701.5 614,702.5 617,703.3 M617,703.3 C624,702 630,698 634.7,694.5 M621,703.8 C627,704 632,704.5 636.4,704.9 M617,703.3 C626,706 631,712 638,720.1 M631,711.2 L636.4,710.3 M633.5,716 L632.3,721.4" stroke="#ef6a48" stroke-width="1.3" fill="none" stroke-linecap="round"/>
<line x1="396" y1="710.5" x2="416" y2="714.5" stroke="#9a88d0" stroke-width="5.0" stroke-linecap="round"/>
<line x1="396" y1="710.5" x2="416" y2="714.5" stroke="#6e52ae" stroke-width="3.8" stroke-linecap="round"/>
<line x1="424.6" y1="715.2" x2="445" y2="715" stroke="#9a88d0" stroke-width="5.0" stroke-linecap="round"/>
<line x1="424.6" y1="715.2" x2="445" y2="715" stroke="#6e52ae" stroke-width="3.8" stroke-linecap="round"/>
<line x1="489" y1="714.4" x2="512.1" y2="714.4" stroke="#9a88d0" stroke-width="5.0" stroke-linecap="round"/>
<line x1="489" y1="714.4" x2="512.1" y2="714.4" stroke="#6e52ae" stroke-width="3.8" stroke-linecap="round"/>
<line x1="522.2" y1="712.5" x2="543" y2="707.5" stroke="#9a88d0" stroke-width="5.0" stroke-linecap="round"/>
<line x1="522.2" y1="712.5" x2="543" y2="707.5" stroke="#6e52ae" stroke-width="3.8" stroke-linecap="round"/>
<line x1="550.7" y1="704.3" x2="572.5" y2="702.2" stroke="#9a88d0" stroke-width="5.0" stroke-linecap="round"/>
<line x1="550.7" y1="704.3" x2="572.5" y2="702.2" stroke="#6e52ae" stroke-width="3.8" stroke-linecap="round"/>
<line x1="581.9" y1="700.4" x2="604.4" y2="700.6" stroke="#9a88d0" stroke-width="5.0" stroke-linecap="round"/>
<line x1="581.9" y1="700.4" x2="604.4" y2="700.6" stroke="#6e52ae" stroke-width="3.8" stroke-linecap="round"/>
<circle cx="459.6" cy="712.0" r="10.7" fill="url(#somaG)"/>
<circle cx="459.6" cy="712.0" r="5.1" fill="#e8542a"/>
<polyline points="446.3,696.3 452.3,696.3 452.3,685.7 459.6,685.7 459.6,696.3 464.7,696.3" fill="none" stroke="#c81414" stroke-width="1.4"/>
<text x="495.30" y="686.00" font-size="9.1" text-anchor="middle" fill="#000" >Receptor</text>
<text x="495.30" y="696.10" font-size="9.1" text-anchor="middle" fill="#000" >potential</text>
<text x="577.50" y="673.60" font-size="9.1" text-anchor="middle" fill="#000" >Action potential</text>
<polyline points="579.20,691.60 581.50,690.50 582.60,690.60 583.60,676.40 584.90,694.20 586.40,692.40 588.20,691.60 591.60,690.60 592.60,676.40 593.90,694.20 595.40,692.40 597.20,691.60 600.50,690.60 601.50,676.40 602.80,694.20 604.30,692.40 606.80,690.20" fill="none" stroke="#dc7c52" stroke-width="0.9" stroke-linejoin="round" />
<polygon points="337.1,746.9 395.5,747.8 395.5,760.3 337.1,757.6" fill="#464646" stroke="#7a7a7a" stroke-width="0.9"/>
<path d="M339.5,749.6 L387,750.3 M339.5,751.6 L387,752.4 M339.5,753.6 L387,754.6 M339.5,755.6 L387,756.6" stroke="#626262" stroke-width="0.5"/>
<rect x="388" y="749.5" width="6.5" height="8.8" fill="#5a5a5a"/>
<path d="M389,750.6 H393.5 M389,753.4 H393.5 M389,756.2 H393.5" stroke="#c8c8c8" stroke-width="1.0"/>
<line x1="395.50" y1="751.60" x2="515.00" y2="751.90" stroke="#b4b4b4" stroke-width="1.3" />
<polyline points="395.5,756.1 413.1,756.1 413.1,768.2" fill="none" stroke="#b4b4b4" stroke-width="1.3"/>
<polygon points="409.1,768.2 417.5,768.2 413.3,777.7" fill="none" stroke="#b4b4b4" stroke-width="1.2"/>
<polyline points="446.8,748.4 452,748.4 452,736.7 460.5,736.7 460.5,748.4 465.8,748.4" fill="none" stroke="#a034a8" stroke-width="1.5"/>
<line x1="465.80" y1="743.10" x2="482.00" y2="743.10" stroke="#000" stroke-width="2.0" />
<polygon points="487.7,743.1 480.5,739.2 480.5,747.0" fill="#000"/>
<rect x="514.90" y="741.00" width="41.80" height="16.80" fill="#c4c4c4" stroke="none" stroke-width="1" />
<polygon points="517.8,737.6 553.8,737.6 556.7,742.2 514.9,742.2" fill="#3a3a3a"/>
<rect x="521.00" y="738.60" width="30.00" height="19.20" fill="#6a4ea8" stroke="none" stroke-width="1" />
<rect x="521.00" y="738.60" width="30.00" height="7.60" fill="#c2c4f0" stroke="none" stroke-width="1" />
<line x1="521.00" y1="746.60" x2="551.00" y2="746.60" stroke="#a63cff" stroke-width="1.4" />
<line x1="556.70" y1="751.90" x2="645.80" y2="751.90" stroke="#b4b4b4" stroke-width="1.4" />
<line x1="645.80" y1="751.90" x2="645.80" y2="768.60" stroke="#b4b4b4" stroke-width="1.4" />
<line x1="640.40" y1="768.60" x2="651.80" y2="768.60" stroke="#b4b4b4" stroke-width="1.2" />
<line x1="642.20" y1="771.40" x2="650.00" y2="771.40" stroke="#b4b4b4" stroke-width="1.2" />
<line x1="644.00" y1="774.20" x2="648.20" y2="774.20" stroke="#b4b4b4" stroke-width="1.2" />
<polyline points="580.80,743.30 582.40,742.20 582.70,742.30 583.60,729.30 584.90,745.30 586.20,743.20 587.80,742.60 591.00,742.30 591.90,729.30 593.20,745.30 594.50,743.20 596.10,742.60 596.50,742.30 597.40,729.30 598.70,745.30 600.00,743.20 601.60,742.60 604.80,742.30 605.70,729.30 607.00,745.30 608.30,743.20 609.50,742.00" fill="none" stroke="#a848a8" stroke-width="1.0" stroke-linejoin="round" />
<text x="338.40" y="776.60" font-size="9.3" text-anchor="start" fill="#000" textLength="64.4" lengthAdjust="spacing">i . Strain sensor</text>
<text x="427.8" y="777.0" font-size="9.0">ii .Capacitor &gt;V<tspan font-size="6.3" dy="2">th</tspan></text>
<text x="536.50" y="768.00" font-size="9.2" text-anchor="middle" fill="#000" >iii.Rigid</text>
<text x="536.50" y="778.90" font-size="9.2" text-anchor="middle" fill="#000" >TS device</text>
<text x="569.70" y="773.50" font-size="9.1" text-anchor="start" fill="#000" textLength="65.9" lengthAdjust="spacing">iv.Output spikes</text>
<mask id="beamM" maskUnits="userSpaceOnUse" x="330" y="770" width="270" height="50"><rect x="330" y="770" width="270" height="50" fill="url(#beamMG)"/></mask>
<polygon points="338,780 588,780 452.5,815.8" fill="url(#beamV)" mask="url(#beamM)"/>
<path d="M381.6,883 C389,868 395,857 400.5,849 L404.5,834 C411,826 420,819.5 434,817.3 C445,816 458,816.2 470,819 C481,822 488,829 492.8,837.5 C505,841 515,843.5 526.5,844.6 C540,845.5 552,845.4 558.2,845.7 L579.7,882.4 C565,885.5 550,887 536.7,886.5 C525,886 514,885 506.1,882.4 C497,878 491,874 485.7,871.2 C479,867.5 474,866 471.3,865.1 C465,863.5 460,862.5 455,862 C449,861 444,858.5 440,857.5 C430,855.5 420,855.5 411.5,858.2 C400,862 390,872 381.6,883 Z" fill="url(#sheetG)"/>
<path d="M401,852.6 C413,845.6 427,841.6 440.7,840.9 C455,840.7 468,842.7 475,845.9 C483,849.8 488,854.3 491.3,859.3" stroke="#a690ee" stroke-width="3.2" fill="none"/>
<path d="M406.4,831.9 C411,826.5 416,823.5 421.7,821.7 C430,819.8 440,819.3 448,819.5 C458,819.8 468,820.5 475,821.7 C482,824 487,829 492.8,839.5 L492.2,855.5 C487,849 481,844 475,841.4 C470,839.5 466,838.3 462.6,837.7 C455,836.6 448,836.2 440.7,836.3 C432,836.6 425,837.6 418.8,839.2 C412,841.5 407,844 402,847.2 Z" fill="url(#dots)"/>
<path d="M402,847.6 C412,841.5 425,837.8 440.7,836.8 C455,836.6 468,838.3 475,841.8 C483,845.5 488,850 492.2,855.8" stroke="#fff" stroke-width="1.1" fill="none"/>
<path d="M400.5,849.6 C412,843 426,839.4 440.7,838.6 C455,838.4 468,840.3 475,843.6 C483,847.5 488,852 491.8,857.2" stroke="#000" stroke-width="1.9" fill="none"/>
<circle cx="385.8" cy="830" r="22.5" fill="url(#photoG)"/>
<path d="M365,824 C368,820 373,819 377,821 L378,848 C372,849 367,845 365.5,838 Z" fill="#c8b4ae" opacity="0.8"/>
<path d="M399,823 C402.5,824 406,828 406,833 C405,840 402,845 398.5,847 L396.5,834 Z" fill="#c8b4ae" opacity="0.8"/>
<path d="M376.3,821.7 C382,818.5 392,818.3 399.5,821.7 L398,834.5 C392,832.5 381,832.5 376.3,837 Z" fill="#9aa0a4"/>
<path d="M380,822 C386,820.5 392,820.5 396,822 L395.5,831 C390,830 384,830 380,832 Z" fill="#b2b6b8"/>
<rect x="386" y="823.5" width="2.2" height="2.6" fill="#7a7478"/>
<polyline points="517.20,830.60 519.00,829.50 519.90,829.80 521.20,810.10 522.70,833.60 524.20,831.40 526.20,830.60 531.60,829.80 532.90,810.10 534.40,833.60 535.90,831.40 537.90,830.60 539.80,829.80 541.10,810.10 542.60,833.60 544.10,831.40 546.10,830.60 551.60,829.80 552.90,810.10 554.40,833.60 555.90,831.40 557.80,830.00" fill="none" stroke="#222" stroke-width="0.85" stroke-linejoin="round" />
<text x="527.40" y="846.20" font-size="12.2" text-anchor="middle" fill="#000" >Output spikes</text>
<line x1="508.90" y1="853.10" x2="542.00" y2="853.10" stroke="#000" stroke-width="3.0" />
<polygon points="548.5,853.1 541,849 541,857.2" fill="#000"/>
<line x1="508.90" y1="861.70" x2="542.00" y2="861.70" stroke="#000" stroke-width="3.0" />
<polygon points="548.5,861.7 541,857.6 541,865.8" fill="#000"/>
<text x="442.90" y="884.50" font-size="12.1" text-anchor="middle" fill="#000" >Sensor-free</text>
<text x="442.40" y="899.10" font-size="12.25" text-anchor="middle" fill="#000" >mechanosensory neuron array</text>
<path d="M588.3,829.8 L591.3,834.0 L597.2,824.5" stroke="#111" stroke-width="1.1" fill="none"/>
<text x="601.30" y="834.00" font-size="12.0" text-anchor="start" fill="#000" >Simplicity</text>
<path d="M588.3,844.7 L591.3,848.9 L597.2,839.4" stroke="#111" stroke-width="1.1" fill="none"/>
<text x="601.30" y="848.90" font-size="12.0" text-anchor="start" fill="#000" >Low energy</text>
<path d="M588.3,859.0 L591.3,863.2 L597.2,853.7" stroke="#111" stroke-width="1.1" fill="none"/>
<text x="601.30" y="863.20" font-size="12.0" text-anchor="start" fill="#000" >High density</text>
<path d="M588.3,873.6 L591.3,877.8 L597.2,868.3" stroke="#111" stroke-width="1.1" fill="none"/>
<text x="601.30" y="877.80" font-size="12.0" text-anchor="start" fill="#000" >Flexibility</text>
</g>

</svg>
</body></html>
